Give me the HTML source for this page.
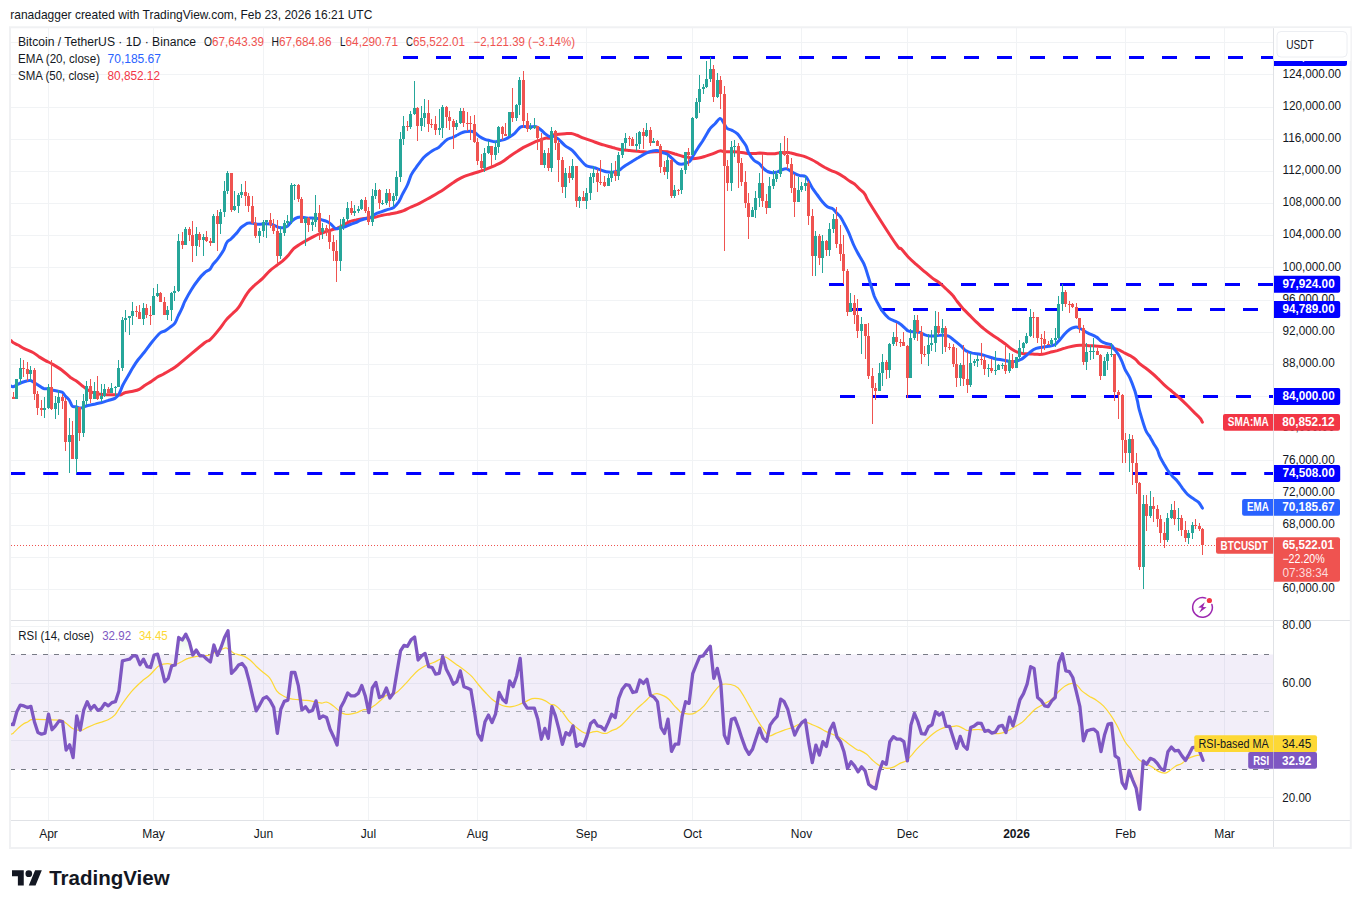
<!DOCTYPE html>
<html><head><meta charset="utf-8"><title>BTCUSDT chart</title>
<style>html,body{margin:0;padding:0;background:#fff;}svg{display:block;}text{font-family:"Liberation Sans",sans-serif;}</style>
</head><body>
<svg width="1361" height="908" viewBox="0 0 1361 908" font-family="Liberation Sans, sans-serif">
<defs>
<clipPath id="cp"><rect x="10.5" y="27" width="1263" height="793"/></clipPath>
<linearGradient id="ghi" gradientUnits="userSpaceOnUse" x1="0" y1="625" x2="0" y2="654.5"><stop offset="0" stop-color="#4caf50" stop-opacity="0.22"/><stop offset="1" stop-color="#4caf50" stop-opacity="0"/></linearGradient>
<linearGradient id="glo" gradientUnits="userSpaceOnUse" x1="0" y1="769.5" x2="0" y2="815"><stop offset="0" stop-color="#ff5252" stop-opacity="0.06"/><stop offset="1" stop-color="#ff5252" stop-opacity="0.3"/></linearGradient>
</defs>
<rect width="1361" height="908" fill="#fff"/>
<g shape-rendering="crispEdges">
<rect x="48" y="27" width="1" height="793" fill="#f1f3f5"/><rect x="153" y="27" width="1" height="793" fill="#f1f3f5"/><rect x="263" y="27" width="1" height="793" fill="#f1f3f5"/><rect x="368" y="27" width="1" height="793" fill="#f1f3f5"/><rect x="477" y="27" width="1" height="793" fill="#f1f3f5"/><rect x="586" y="27" width="1" height="793" fill="#f1f3f5"/><rect x="692" y="27" width="1" height="793" fill="#f1f3f5"/><rect x="801" y="27" width="1" height="793" fill="#f1f3f5"/><rect x="907" y="27" width="1" height="793" fill="#f1f3f5"/><rect x="1016" y="27" width="1" height="793" fill="#f1f3f5"/><rect x="1125" y="27" width="1" height="793" fill="#f1f3f5"/><rect x="1224" y="27" width="1" height="793" fill="#f1f3f5"/><rect x="10" y="589" width="1263" height="1" fill="#f1f3f5"/><rect x="10" y="557" width="1263" height="1" fill="#f1f3f5"/><rect x="10" y="525" width="1263" height="1" fill="#f1f3f5"/><rect x="10" y="493" width="1263" height="1" fill="#f1f3f5"/><rect x="10" y="460" width="1263" height="1" fill="#f1f3f5"/><rect x="10" y="428" width="1263" height="1" fill="#f1f3f5"/><rect x="10" y="396" width="1263" height="1" fill="#f1f3f5"/><rect x="10" y="364" width="1263" height="1" fill="#f1f3f5"/><rect x="10" y="332" width="1263" height="1" fill="#f1f3f5"/><rect x="10" y="300" width="1263" height="1" fill="#f1f3f5"/><rect x="10" y="267" width="1263" height="1" fill="#f1f3f5"/><rect x="10" y="235" width="1263" height="1" fill="#f1f3f5"/><rect x="10" y="203" width="1263" height="1" fill="#f1f3f5"/><rect x="10" y="171" width="1263" height="1" fill="#f1f3f5"/><rect x="10" y="139" width="1263" height="1" fill="#f1f3f5"/><rect x="10" y="107" width="1263" height="1" fill="#f1f3f5"/><rect x="10" y="74" width="1263" height="1" fill="#f1f3f5"/><rect x="10" y="42" width="1263" height="1" fill="#f1f3f5"/><rect x="10" y="626" width="1263" height="1" fill="#f1f3f5"/><rect x="10" y="683" width="1263" height="1" fill="#f1f3f5"/><rect x="10" y="740" width="1263" height="1" fill="#f1f3f5"/><rect x="10" y="797" width="1263" height="1" fill="#f1f3f5"/>
</g>
<rect x="10" y="654.5" width="1263.5" height="115.0" fill="#7e57c2" fill-opacity="0.1"/>
<g><rect x="403.0" y="56.0" width="15.0" height="3" fill="#0000ff"/><rect x="436.0" y="56.0" width="15.0" height="3" fill="#0000ff"/><rect x="469.0" y="56.0" width="15.0" height="3" fill="#0000ff"/><rect x="502.0" y="56.0" width="15.0" height="3" fill="#0000ff"/><rect x="535.0" y="56.0" width="15.0" height="3" fill="#0000ff"/><rect x="568.0" y="56.0" width="15.0" height="3" fill="#0000ff"/><rect x="601.0" y="56.0" width="15.0" height="3" fill="#0000ff"/><rect x="634.0" y="56.0" width="15.0" height="3" fill="#0000ff"/><rect x="667.0" y="56.0" width="15.0" height="3" fill="#0000ff"/><rect x="700.0" y="56.0" width="15.0" height="3" fill="#0000ff"/><rect x="733.0" y="56.0" width="15.0" height="3" fill="#0000ff"/><rect x="766.0" y="56.0" width="15.0" height="3" fill="#0000ff"/><rect x="799.0" y="56.0" width="15.0" height="3" fill="#0000ff"/><rect x="832.0" y="56.0" width="15.0" height="3" fill="#0000ff"/><rect x="865.0" y="56.0" width="15.0" height="3" fill="#0000ff"/><rect x="898.0" y="56.0" width="15.0" height="3" fill="#0000ff"/><rect x="931.0" y="56.0" width="15.0" height="3" fill="#0000ff"/><rect x="964.0" y="56.0" width="15.0" height="3" fill="#0000ff"/><rect x="997.0" y="56.0" width="15.0" height="3" fill="#0000ff"/><rect x="1030.0" y="56.0" width="15.0" height="3" fill="#0000ff"/><rect x="1063.0" y="56.0" width="15.0" height="3" fill="#0000ff"/><rect x="1096.0" y="56.0" width="15.0" height="3" fill="#0000ff"/><rect x="1129.0" y="56.0" width="15.0" height="3" fill="#0000ff"/><rect x="1162.0" y="56.0" width="15.0" height="3" fill="#0000ff"/><rect x="1195.0" y="56.0" width="15.0" height="3" fill="#0000ff"/><rect x="1228.0" y="56.0" width="15.0" height="3" fill="#0000ff"/><rect x="1261.0" y="56.0" width="12.0" height="3" fill="#0000ff"/><rect x="829.0" y="283.0" width="15.0" height="3" fill="#0000ff"/><rect x="862.0" y="283.0" width="15.0" height="3" fill="#0000ff"/><rect x="895.0" y="283.0" width="15.0" height="3" fill="#0000ff"/><rect x="928.0" y="283.0" width="15.0" height="3" fill="#0000ff"/><rect x="961.0" y="283.0" width="15.0" height="3" fill="#0000ff"/><rect x="994.0" y="283.0" width="15.0" height="3" fill="#0000ff"/><rect x="1027.0" y="283.0" width="15.0" height="3" fill="#0000ff"/><rect x="1060.0" y="283.0" width="15.0" height="3" fill="#0000ff"/><rect x="1093.0" y="283.0" width="15.0" height="3" fill="#0000ff"/><rect x="1126.0" y="283.0" width="15.0" height="3" fill="#0000ff"/><rect x="1159.0" y="283.0" width="15.0" height="3" fill="#0000ff"/><rect x="1192.0" y="283.0" width="15.0" height="3" fill="#0000ff"/><rect x="1225.0" y="283.0" width="15.0" height="3" fill="#0000ff"/><rect x="1258.0" y="283.0" width="15.0" height="3" fill="#0000ff"/><rect x="847.0" y="308.0" width="15.0" height="3" fill="#0000ff"/><rect x="880.0" y="308.0" width="15.0" height="3" fill="#0000ff"/><rect x="913.0" y="308.0" width="15.0" height="3" fill="#0000ff"/><rect x="946.0" y="308.0" width="15.0" height="3" fill="#0000ff"/><rect x="979.0" y="308.0" width="15.0" height="3" fill="#0000ff"/><rect x="1012.0" y="308.0" width="15.0" height="3" fill="#0000ff"/><rect x="1045.0" y="308.0" width="15.0" height="3" fill="#0000ff"/><rect x="1078.0" y="308.0" width="15.0" height="3" fill="#0000ff"/><rect x="1111.0" y="308.0" width="15.0" height="3" fill="#0000ff"/><rect x="1144.0" y="308.0" width="15.0" height="3" fill="#0000ff"/><rect x="1177.0" y="308.0" width="15.0" height="3" fill="#0000ff"/><rect x="1210.0" y="308.0" width="15.0" height="3" fill="#0000ff"/><rect x="1243.0" y="308.0" width="15.0" height="3" fill="#0000ff"/><rect x="840.0" y="395.0" width="15.0" height="3" fill="#0000ff"/><rect x="873.0" y="395.0" width="15.0" height="3" fill="#0000ff"/><rect x="906.0" y="395.0" width="15.0" height="3" fill="#0000ff"/><rect x="939.0" y="395.0" width="15.0" height="3" fill="#0000ff"/><rect x="972.0" y="395.0" width="15.0" height="3" fill="#0000ff"/><rect x="1005.0" y="395.0" width="15.0" height="3" fill="#0000ff"/><rect x="1038.0" y="395.0" width="15.0" height="3" fill="#0000ff"/><rect x="1071.0" y="395.0" width="15.0" height="3" fill="#0000ff"/><rect x="1104.0" y="395.0" width="15.0" height="3" fill="#0000ff"/><rect x="1137.0" y="395.0" width="15.0" height="3" fill="#0000ff"/><rect x="1170.0" y="395.0" width="15.0" height="3" fill="#0000ff"/><rect x="1203.0" y="395.0" width="15.0" height="3" fill="#0000ff"/><rect x="1236.0" y="395.0" width="15.0" height="3" fill="#0000ff"/><rect x="1269.0" y="395.0" width="4.0" height="3" fill="#0000ff"/><rect x="10.2" y="472.0" width="15.0" height="3" fill="#0000ff"/><rect x="43.2" y="472.0" width="15.0" height="3" fill="#0000ff"/><rect x="76.2" y="472.0" width="15.0" height="3" fill="#0000ff"/><rect x="109.2" y="472.0" width="15.0" height="3" fill="#0000ff"/><rect x="142.2" y="472.0" width="15.0" height="3" fill="#0000ff"/><rect x="175.2" y="472.0" width="15.0" height="3" fill="#0000ff"/><rect x="208.2" y="472.0" width="15.0" height="3" fill="#0000ff"/><rect x="241.2" y="472.0" width="15.0" height="3" fill="#0000ff"/><rect x="274.2" y="472.0" width="15.0" height="3" fill="#0000ff"/><rect x="307.2" y="472.0" width="15.0" height="3" fill="#0000ff"/><rect x="340.2" y="472.0" width="15.0" height="3" fill="#0000ff"/><rect x="373.2" y="472.0" width="15.0" height="3" fill="#0000ff"/><rect x="406.2" y="472.0" width="15.0" height="3" fill="#0000ff"/><rect x="439.2" y="472.0" width="15.0" height="3" fill="#0000ff"/><rect x="472.2" y="472.0" width="15.0" height="3" fill="#0000ff"/><rect x="505.2" y="472.0" width="15.0" height="3" fill="#0000ff"/><rect x="538.2" y="472.0" width="15.0" height="3" fill="#0000ff"/><rect x="571.2" y="472.0" width="15.0" height="3" fill="#0000ff"/><rect x="604.2" y="472.0" width="15.0" height="3" fill="#0000ff"/><rect x="637.2" y="472.0" width="15.0" height="3" fill="#0000ff"/><rect x="670.2" y="472.0" width="15.0" height="3" fill="#0000ff"/><rect x="703.2" y="472.0" width="15.0" height="3" fill="#0000ff"/><rect x="736.2" y="472.0" width="15.0" height="3" fill="#0000ff"/><rect x="769.2" y="472.0" width="15.0" height="3" fill="#0000ff"/><rect x="802.2" y="472.0" width="15.0" height="3" fill="#0000ff"/><rect x="835.2" y="472.0" width="15.0" height="3" fill="#0000ff"/><rect x="868.2" y="472.0" width="15.0" height="3" fill="#0000ff"/><rect x="901.2" y="472.0" width="15.0" height="3" fill="#0000ff"/><rect x="934.2" y="472.0" width="15.0" height="3" fill="#0000ff"/><rect x="967.2" y="472.0" width="15.0" height="3" fill="#0000ff"/><rect x="1000.2" y="472.0" width="15.0" height="3" fill="#0000ff"/><rect x="1033.2" y="472.0" width="15.0" height="3" fill="#0000ff"/><rect x="1066.2" y="472.0" width="15.0" height="3" fill="#0000ff"/><rect x="1099.2" y="472.0" width="15.0" height="3" fill="#0000ff"/><rect x="1132.2" y="472.0" width="15.0" height="3" fill="#0000ff"/><rect x="1165.2" y="472.0" width="15.0" height="3" fill="#0000ff"/><rect x="1198.2" y="472.0" width="15.0" height="3" fill="#0000ff"/><rect x="1231.2" y="472.0" width="15.0" height="3" fill="#0000ff"/><rect x="1264.2" y="472.0" width="8.8" height="3" fill="#0000ff"/></g>
<g shape-rendering="crispEdges"><rect x="11" y="545" width="1" height="1" fill="#ef5350"/><rect x="14" y="545" width="1" height="1" fill="#ef5350"/><rect x="17" y="545" width="1" height="1" fill="#ef5350"/><rect x="20" y="545" width="1" height="1" fill="#ef5350"/><rect x="23" y="545" width="1" height="1" fill="#ef5350"/><rect x="26" y="545" width="1" height="1" fill="#ef5350"/><rect x="29" y="545" width="1" height="1" fill="#ef5350"/><rect x="32" y="545" width="1" height="1" fill="#ef5350"/><rect x="35" y="545" width="1" height="1" fill="#ef5350"/><rect x="38" y="545" width="1" height="1" fill="#ef5350"/><rect x="41" y="545" width="1" height="1" fill="#ef5350"/><rect x="44" y="545" width="1" height="1" fill="#ef5350"/><rect x="47" y="545" width="1" height="1" fill="#ef5350"/><rect x="50" y="545" width="1" height="1" fill="#ef5350"/><rect x="53" y="545" width="1" height="1" fill="#ef5350"/><rect x="56" y="545" width="1" height="1" fill="#ef5350"/><rect x="59" y="545" width="1" height="1" fill="#ef5350"/><rect x="62" y="545" width="1" height="1" fill="#ef5350"/><rect x="65" y="545" width="1" height="1" fill="#ef5350"/><rect x="68" y="545" width="1" height="1" fill="#ef5350"/><rect x="71" y="545" width="1" height="1" fill="#ef5350"/><rect x="74" y="545" width="1" height="1" fill="#ef5350"/><rect x="77" y="545" width="1" height="1" fill="#ef5350"/><rect x="80" y="545" width="1" height="1" fill="#ef5350"/><rect x="83" y="545" width="1" height="1" fill="#ef5350"/><rect x="86" y="545" width="1" height="1" fill="#ef5350"/><rect x="89" y="545" width="1" height="1" fill="#ef5350"/><rect x="92" y="545" width="1" height="1" fill="#ef5350"/><rect x="95" y="545" width="1" height="1" fill="#ef5350"/><rect x="98" y="545" width="1" height="1" fill="#ef5350"/><rect x="101" y="545" width="1" height="1" fill="#ef5350"/><rect x="104" y="545" width="1" height="1" fill="#ef5350"/><rect x="107" y="545" width="1" height="1" fill="#ef5350"/><rect x="110" y="545" width="1" height="1" fill="#ef5350"/><rect x="113" y="545" width="1" height="1" fill="#ef5350"/><rect x="116" y="545" width="1" height="1" fill="#ef5350"/><rect x="119" y="545" width="1" height="1" fill="#ef5350"/><rect x="122" y="545" width="1" height="1" fill="#ef5350"/><rect x="125" y="545" width="1" height="1" fill="#ef5350"/><rect x="128" y="545" width="1" height="1" fill="#ef5350"/><rect x="131" y="545" width="1" height="1" fill="#ef5350"/><rect x="134" y="545" width="1" height="1" fill="#ef5350"/><rect x="137" y="545" width="1" height="1" fill="#ef5350"/><rect x="140" y="545" width="1" height="1" fill="#ef5350"/><rect x="143" y="545" width="1" height="1" fill="#ef5350"/><rect x="146" y="545" width="1" height="1" fill="#ef5350"/><rect x="149" y="545" width="1" height="1" fill="#ef5350"/><rect x="152" y="545" width="1" height="1" fill="#ef5350"/><rect x="155" y="545" width="1" height="1" fill="#ef5350"/><rect x="158" y="545" width="1" height="1" fill="#ef5350"/><rect x="161" y="545" width="1" height="1" fill="#ef5350"/><rect x="164" y="545" width="1" height="1" fill="#ef5350"/><rect x="167" y="545" width="1" height="1" fill="#ef5350"/><rect x="170" y="545" width="1" height="1" fill="#ef5350"/><rect x="173" y="545" width="1" height="1" fill="#ef5350"/><rect x="176" y="545" width="1" height="1" fill="#ef5350"/><rect x="179" y="545" width="1" height="1" fill="#ef5350"/><rect x="182" y="545" width="1" height="1" fill="#ef5350"/><rect x="185" y="545" width="1" height="1" fill="#ef5350"/><rect x="188" y="545" width="1" height="1" fill="#ef5350"/><rect x="191" y="545" width="1" height="1" fill="#ef5350"/><rect x="194" y="545" width="1" height="1" fill="#ef5350"/><rect x="197" y="545" width="1" height="1" fill="#ef5350"/><rect x="200" y="545" width="1" height="1" fill="#ef5350"/><rect x="203" y="545" width="1" height="1" fill="#ef5350"/><rect x="206" y="545" width="1" height="1" fill="#ef5350"/><rect x="209" y="545" width="1" height="1" fill="#ef5350"/><rect x="212" y="545" width="1" height="1" fill="#ef5350"/><rect x="215" y="545" width="1" height="1" fill="#ef5350"/><rect x="218" y="545" width="1" height="1" fill="#ef5350"/><rect x="221" y="545" width="1" height="1" fill="#ef5350"/><rect x="224" y="545" width="1" height="1" fill="#ef5350"/><rect x="227" y="545" width="1" height="1" fill="#ef5350"/><rect x="230" y="545" width="1" height="1" fill="#ef5350"/><rect x="233" y="545" width="1" height="1" fill="#ef5350"/><rect x="236" y="545" width="1" height="1" fill="#ef5350"/><rect x="239" y="545" width="1" height="1" fill="#ef5350"/><rect x="242" y="545" width="1" height="1" fill="#ef5350"/><rect x="245" y="545" width="1" height="1" fill="#ef5350"/><rect x="248" y="545" width="1" height="1" fill="#ef5350"/><rect x="251" y="545" width="1" height="1" fill="#ef5350"/><rect x="254" y="545" width="1" height="1" fill="#ef5350"/><rect x="257" y="545" width="1" height="1" fill="#ef5350"/><rect x="260" y="545" width="1" height="1" fill="#ef5350"/><rect x="263" y="545" width="1" height="1" fill="#ef5350"/><rect x="266" y="545" width="1" height="1" fill="#ef5350"/><rect x="269" y="545" width="1" height="1" fill="#ef5350"/><rect x="272" y="545" width="1" height="1" fill="#ef5350"/><rect x="275" y="545" width="1" height="1" fill="#ef5350"/><rect x="278" y="545" width="1" height="1" fill="#ef5350"/><rect x="281" y="545" width="1" height="1" fill="#ef5350"/><rect x="284" y="545" width="1" height="1" fill="#ef5350"/><rect x="287" y="545" width="1" height="1" fill="#ef5350"/><rect x="290" y="545" width="1" height="1" fill="#ef5350"/><rect x="293" y="545" width="1" height="1" fill="#ef5350"/><rect x="296" y="545" width="1" height="1" fill="#ef5350"/><rect x="299" y="545" width="1" height="1" fill="#ef5350"/><rect x="302" y="545" width="1" height="1" fill="#ef5350"/><rect x="305" y="545" width="1" height="1" fill="#ef5350"/><rect x="308" y="545" width="1" height="1" fill="#ef5350"/><rect x="311" y="545" width="1" height="1" fill="#ef5350"/><rect x="314" y="545" width="1" height="1" fill="#ef5350"/><rect x="317" y="545" width="1" height="1" fill="#ef5350"/><rect x="320" y="545" width="1" height="1" fill="#ef5350"/><rect x="323" y="545" width="1" height="1" fill="#ef5350"/><rect x="326" y="545" width="1" height="1" fill="#ef5350"/><rect x="329" y="545" width="1" height="1" fill="#ef5350"/><rect x="332" y="545" width="1" height="1" fill="#ef5350"/><rect x="335" y="545" width="1" height="1" fill="#ef5350"/><rect x="338" y="545" width="1" height="1" fill="#ef5350"/><rect x="341" y="545" width="1" height="1" fill="#ef5350"/><rect x="344" y="545" width="1" height="1" fill="#ef5350"/><rect x="347" y="545" width="1" height="1" fill="#ef5350"/><rect x="350" y="545" width="1" height="1" fill="#ef5350"/><rect x="353" y="545" width="1" height="1" fill="#ef5350"/><rect x="356" y="545" width="1" height="1" fill="#ef5350"/><rect x="359" y="545" width="1" height="1" fill="#ef5350"/><rect x="362" y="545" width="1" height="1" fill="#ef5350"/><rect x="365" y="545" width="1" height="1" fill="#ef5350"/><rect x="368" y="545" width="1" height="1" fill="#ef5350"/><rect x="371" y="545" width="1" height="1" fill="#ef5350"/><rect x="374" y="545" width="1" height="1" fill="#ef5350"/><rect x="377" y="545" width="1" height="1" fill="#ef5350"/><rect x="380" y="545" width="1" height="1" fill="#ef5350"/><rect x="383" y="545" width="1" height="1" fill="#ef5350"/><rect x="386" y="545" width="1" height="1" fill="#ef5350"/><rect x="389" y="545" width="1" height="1" fill="#ef5350"/><rect x="392" y="545" width="1" height="1" fill="#ef5350"/><rect x="395" y="545" width="1" height="1" fill="#ef5350"/><rect x="398" y="545" width="1" height="1" fill="#ef5350"/><rect x="401" y="545" width="1" height="1" fill="#ef5350"/><rect x="404" y="545" width="1" height="1" fill="#ef5350"/><rect x="407" y="545" width="1" height="1" fill="#ef5350"/><rect x="410" y="545" width="1" height="1" fill="#ef5350"/><rect x="413" y="545" width="1" height="1" fill="#ef5350"/><rect x="416" y="545" width="1" height="1" fill="#ef5350"/><rect x="419" y="545" width="1" height="1" fill="#ef5350"/><rect x="422" y="545" width="1" height="1" fill="#ef5350"/><rect x="425" y="545" width="1" height="1" fill="#ef5350"/><rect x="428" y="545" width="1" height="1" fill="#ef5350"/><rect x="431" y="545" width="1" height="1" fill="#ef5350"/><rect x="434" y="545" width="1" height="1" fill="#ef5350"/><rect x="437" y="545" width="1" height="1" fill="#ef5350"/><rect x="440" y="545" width="1" height="1" fill="#ef5350"/><rect x="443" y="545" width="1" height="1" fill="#ef5350"/><rect x="446" y="545" width="1" height="1" fill="#ef5350"/><rect x="449" y="545" width="1" height="1" fill="#ef5350"/><rect x="452" y="545" width="1" height="1" fill="#ef5350"/><rect x="455" y="545" width="1" height="1" fill="#ef5350"/><rect x="458" y="545" width="1" height="1" fill="#ef5350"/><rect x="461" y="545" width="1" height="1" fill="#ef5350"/><rect x="464" y="545" width="1" height="1" fill="#ef5350"/><rect x="467" y="545" width="1" height="1" fill="#ef5350"/><rect x="470" y="545" width="1" height="1" fill="#ef5350"/><rect x="473" y="545" width="1" height="1" fill="#ef5350"/><rect x="476" y="545" width="1" height="1" fill="#ef5350"/><rect x="479" y="545" width="1" height="1" fill="#ef5350"/><rect x="482" y="545" width="1" height="1" fill="#ef5350"/><rect x="485" y="545" width="1" height="1" fill="#ef5350"/><rect x="488" y="545" width="1" height="1" fill="#ef5350"/><rect x="491" y="545" width="1" height="1" fill="#ef5350"/><rect x="494" y="545" width="1" height="1" fill="#ef5350"/><rect x="497" y="545" width="1" height="1" fill="#ef5350"/><rect x="500" y="545" width="1" height="1" fill="#ef5350"/><rect x="503" y="545" width="1" height="1" fill="#ef5350"/><rect x="506" y="545" width="1" height="1" fill="#ef5350"/><rect x="509" y="545" width="1" height="1" fill="#ef5350"/><rect x="512" y="545" width="1" height="1" fill="#ef5350"/><rect x="515" y="545" width="1" height="1" fill="#ef5350"/><rect x="518" y="545" width="1" height="1" fill="#ef5350"/><rect x="521" y="545" width="1" height="1" fill="#ef5350"/><rect x="524" y="545" width="1" height="1" fill="#ef5350"/><rect x="527" y="545" width="1" height="1" fill="#ef5350"/><rect x="530" y="545" width="1" height="1" fill="#ef5350"/><rect x="533" y="545" width="1" height="1" fill="#ef5350"/><rect x="536" y="545" width="1" height="1" fill="#ef5350"/><rect x="539" y="545" width="1" height="1" fill="#ef5350"/><rect x="542" y="545" width="1" height="1" fill="#ef5350"/><rect x="545" y="545" width="1" height="1" fill="#ef5350"/><rect x="548" y="545" width="1" height="1" fill="#ef5350"/><rect x="551" y="545" width="1" height="1" fill="#ef5350"/><rect x="554" y="545" width="1" height="1" fill="#ef5350"/><rect x="557" y="545" width="1" height="1" fill="#ef5350"/><rect x="560" y="545" width="1" height="1" fill="#ef5350"/><rect x="563" y="545" width="1" height="1" fill="#ef5350"/><rect x="566" y="545" width="1" height="1" fill="#ef5350"/><rect x="569" y="545" width="1" height="1" fill="#ef5350"/><rect x="572" y="545" width="1" height="1" fill="#ef5350"/><rect x="575" y="545" width="1" height="1" fill="#ef5350"/><rect x="578" y="545" width="1" height="1" fill="#ef5350"/><rect x="581" y="545" width="1" height="1" fill="#ef5350"/><rect x="584" y="545" width="1" height="1" fill="#ef5350"/><rect x="587" y="545" width="1" height="1" fill="#ef5350"/><rect x="590" y="545" width="1" height="1" fill="#ef5350"/><rect x="593" y="545" width="1" height="1" fill="#ef5350"/><rect x="596" y="545" width="1" height="1" fill="#ef5350"/><rect x="599" y="545" width="1" height="1" fill="#ef5350"/><rect x="602" y="545" width="1" height="1" fill="#ef5350"/><rect x="605" y="545" width="1" height="1" fill="#ef5350"/><rect x="608" y="545" width="1" height="1" fill="#ef5350"/><rect x="611" y="545" width="1" height="1" fill="#ef5350"/><rect x="614" y="545" width="1" height="1" fill="#ef5350"/><rect x="617" y="545" width="1" height="1" fill="#ef5350"/><rect x="620" y="545" width="1" height="1" fill="#ef5350"/><rect x="623" y="545" width="1" height="1" fill="#ef5350"/><rect x="626" y="545" width="1" height="1" fill="#ef5350"/><rect x="629" y="545" width="1" height="1" fill="#ef5350"/><rect x="632" y="545" width="1" height="1" fill="#ef5350"/><rect x="635" y="545" width="1" height="1" fill="#ef5350"/><rect x="638" y="545" width="1" height="1" fill="#ef5350"/><rect x="641" y="545" width="1" height="1" fill="#ef5350"/><rect x="644" y="545" width="1" height="1" fill="#ef5350"/><rect x="647" y="545" width="1" height="1" fill="#ef5350"/><rect x="650" y="545" width="1" height="1" fill="#ef5350"/><rect x="653" y="545" width="1" height="1" fill="#ef5350"/><rect x="656" y="545" width="1" height="1" fill="#ef5350"/><rect x="659" y="545" width="1" height="1" fill="#ef5350"/><rect x="662" y="545" width="1" height="1" fill="#ef5350"/><rect x="665" y="545" width="1" height="1" fill="#ef5350"/><rect x="668" y="545" width="1" height="1" fill="#ef5350"/><rect x="671" y="545" width="1" height="1" fill="#ef5350"/><rect x="674" y="545" width="1" height="1" fill="#ef5350"/><rect x="677" y="545" width="1" height="1" fill="#ef5350"/><rect x="680" y="545" width="1" height="1" fill="#ef5350"/><rect x="683" y="545" width="1" height="1" fill="#ef5350"/><rect x="686" y="545" width="1" height="1" fill="#ef5350"/><rect x="689" y="545" width="1" height="1" fill="#ef5350"/><rect x="692" y="545" width="1" height="1" fill="#ef5350"/><rect x="695" y="545" width="1" height="1" fill="#ef5350"/><rect x="698" y="545" width="1" height="1" fill="#ef5350"/><rect x="701" y="545" width="1" height="1" fill="#ef5350"/><rect x="704" y="545" width="1" height="1" fill="#ef5350"/><rect x="707" y="545" width="1" height="1" fill="#ef5350"/><rect x="710" y="545" width="1" height="1" fill="#ef5350"/><rect x="713" y="545" width="1" height="1" fill="#ef5350"/><rect x="716" y="545" width="1" height="1" fill="#ef5350"/><rect x="719" y="545" width="1" height="1" fill="#ef5350"/><rect x="722" y="545" width="1" height="1" fill="#ef5350"/><rect x="725" y="545" width="1" height="1" fill="#ef5350"/><rect x="728" y="545" width="1" height="1" fill="#ef5350"/><rect x="731" y="545" width="1" height="1" fill="#ef5350"/><rect x="734" y="545" width="1" height="1" fill="#ef5350"/><rect x="737" y="545" width="1" height="1" fill="#ef5350"/><rect x="740" y="545" width="1" height="1" fill="#ef5350"/><rect x="743" y="545" width="1" height="1" fill="#ef5350"/><rect x="746" y="545" width="1" height="1" fill="#ef5350"/><rect x="749" y="545" width="1" height="1" fill="#ef5350"/><rect x="752" y="545" width="1" height="1" fill="#ef5350"/><rect x="755" y="545" width="1" height="1" fill="#ef5350"/><rect x="758" y="545" width="1" height="1" fill="#ef5350"/><rect x="761" y="545" width="1" height="1" fill="#ef5350"/><rect x="764" y="545" width="1" height="1" fill="#ef5350"/><rect x="767" y="545" width="1" height="1" fill="#ef5350"/><rect x="770" y="545" width="1" height="1" fill="#ef5350"/><rect x="773" y="545" width="1" height="1" fill="#ef5350"/><rect x="776" y="545" width="1" height="1" fill="#ef5350"/><rect x="779" y="545" width="1" height="1" fill="#ef5350"/><rect x="782" y="545" width="1" height="1" fill="#ef5350"/><rect x="785" y="545" width="1" height="1" fill="#ef5350"/><rect x="788" y="545" width="1" height="1" fill="#ef5350"/><rect x="791" y="545" width="1" height="1" fill="#ef5350"/><rect x="794" y="545" width="1" height="1" fill="#ef5350"/><rect x="797" y="545" width="1" height="1" fill="#ef5350"/><rect x="800" y="545" width="1" height="1" fill="#ef5350"/><rect x="803" y="545" width="1" height="1" fill="#ef5350"/><rect x="806" y="545" width="1" height="1" fill="#ef5350"/><rect x="809" y="545" width="1" height="1" fill="#ef5350"/><rect x="812" y="545" width="1" height="1" fill="#ef5350"/><rect x="815" y="545" width="1" height="1" fill="#ef5350"/><rect x="818" y="545" width="1" height="1" fill="#ef5350"/><rect x="821" y="545" width="1" height="1" fill="#ef5350"/><rect x="824" y="545" width="1" height="1" fill="#ef5350"/><rect x="827" y="545" width="1" height="1" fill="#ef5350"/><rect x="830" y="545" width="1" height="1" fill="#ef5350"/><rect x="833" y="545" width="1" height="1" fill="#ef5350"/><rect x="836" y="545" width="1" height="1" fill="#ef5350"/><rect x="839" y="545" width="1" height="1" fill="#ef5350"/><rect x="842" y="545" width="1" height="1" fill="#ef5350"/><rect x="845" y="545" width="1" height="1" fill="#ef5350"/><rect x="848" y="545" width="1" height="1" fill="#ef5350"/><rect x="851" y="545" width="1" height="1" fill="#ef5350"/><rect x="854" y="545" width="1" height="1" fill="#ef5350"/><rect x="857" y="545" width="1" height="1" fill="#ef5350"/><rect x="860" y="545" width="1" height="1" fill="#ef5350"/><rect x="863" y="545" width="1" height="1" fill="#ef5350"/><rect x="866" y="545" width="1" height="1" fill="#ef5350"/><rect x="869" y="545" width="1" height="1" fill="#ef5350"/><rect x="872" y="545" width="1" height="1" fill="#ef5350"/><rect x="875" y="545" width="1" height="1" fill="#ef5350"/><rect x="878" y="545" width="1" height="1" fill="#ef5350"/><rect x="881" y="545" width="1" height="1" fill="#ef5350"/><rect x="884" y="545" width="1" height="1" fill="#ef5350"/><rect x="887" y="545" width="1" height="1" fill="#ef5350"/><rect x="890" y="545" width="1" height="1" fill="#ef5350"/><rect x="893" y="545" width="1" height="1" fill="#ef5350"/><rect x="896" y="545" width="1" height="1" fill="#ef5350"/><rect x="899" y="545" width="1" height="1" fill="#ef5350"/><rect x="902" y="545" width="1" height="1" fill="#ef5350"/><rect x="905" y="545" width="1" height="1" fill="#ef5350"/><rect x="908" y="545" width="1" height="1" fill="#ef5350"/><rect x="911" y="545" width="1" height="1" fill="#ef5350"/><rect x="914" y="545" width="1" height="1" fill="#ef5350"/><rect x="917" y="545" width="1" height="1" fill="#ef5350"/><rect x="920" y="545" width="1" height="1" fill="#ef5350"/><rect x="923" y="545" width="1" height="1" fill="#ef5350"/><rect x="926" y="545" width="1" height="1" fill="#ef5350"/><rect x="929" y="545" width="1" height="1" fill="#ef5350"/><rect x="932" y="545" width="1" height="1" fill="#ef5350"/><rect x="935" y="545" width="1" height="1" fill="#ef5350"/><rect x="938" y="545" width="1" height="1" fill="#ef5350"/><rect x="941" y="545" width="1" height="1" fill="#ef5350"/><rect x="944" y="545" width="1" height="1" fill="#ef5350"/><rect x="947" y="545" width="1" height="1" fill="#ef5350"/><rect x="950" y="545" width="1" height="1" fill="#ef5350"/><rect x="953" y="545" width="1" height="1" fill="#ef5350"/><rect x="956" y="545" width="1" height="1" fill="#ef5350"/><rect x="959" y="545" width="1" height="1" fill="#ef5350"/><rect x="962" y="545" width="1" height="1" fill="#ef5350"/><rect x="965" y="545" width="1" height="1" fill="#ef5350"/><rect x="968" y="545" width="1" height="1" fill="#ef5350"/><rect x="971" y="545" width="1" height="1" fill="#ef5350"/><rect x="974" y="545" width="1" height="1" fill="#ef5350"/><rect x="977" y="545" width="1" height="1" fill="#ef5350"/><rect x="980" y="545" width="1" height="1" fill="#ef5350"/><rect x="983" y="545" width="1" height="1" fill="#ef5350"/><rect x="986" y="545" width="1" height="1" fill="#ef5350"/><rect x="989" y="545" width="1" height="1" fill="#ef5350"/><rect x="992" y="545" width="1" height="1" fill="#ef5350"/><rect x="995" y="545" width="1" height="1" fill="#ef5350"/><rect x="998" y="545" width="1" height="1" fill="#ef5350"/><rect x="1001" y="545" width="1" height="1" fill="#ef5350"/><rect x="1004" y="545" width="1" height="1" fill="#ef5350"/><rect x="1007" y="545" width="1" height="1" fill="#ef5350"/><rect x="1010" y="545" width="1" height="1" fill="#ef5350"/><rect x="1013" y="545" width="1" height="1" fill="#ef5350"/><rect x="1016" y="545" width="1" height="1" fill="#ef5350"/><rect x="1019" y="545" width="1" height="1" fill="#ef5350"/><rect x="1022" y="545" width="1" height="1" fill="#ef5350"/><rect x="1025" y="545" width="1" height="1" fill="#ef5350"/><rect x="1028" y="545" width="1" height="1" fill="#ef5350"/><rect x="1031" y="545" width="1" height="1" fill="#ef5350"/><rect x="1034" y="545" width="1" height="1" fill="#ef5350"/><rect x="1037" y="545" width="1" height="1" fill="#ef5350"/><rect x="1040" y="545" width="1" height="1" fill="#ef5350"/><rect x="1043" y="545" width="1" height="1" fill="#ef5350"/><rect x="1046" y="545" width="1" height="1" fill="#ef5350"/><rect x="1049" y="545" width="1" height="1" fill="#ef5350"/><rect x="1052" y="545" width="1" height="1" fill="#ef5350"/><rect x="1055" y="545" width="1" height="1" fill="#ef5350"/><rect x="1058" y="545" width="1" height="1" fill="#ef5350"/><rect x="1061" y="545" width="1" height="1" fill="#ef5350"/><rect x="1064" y="545" width="1" height="1" fill="#ef5350"/><rect x="1067" y="545" width="1" height="1" fill="#ef5350"/><rect x="1070" y="545" width="1" height="1" fill="#ef5350"/><rect x="1073" y="545" width="1" height="1" fill="#ef5350"/><rect x="1076" y="545" width="1" height="1" fill="#ef5350"/><rect x="1079" y="545" width="1" height="1" fill="#ef5350"/><rect x="1082" y="545" width="1" height="1" fill="#ef5350"/><rect x="1085" y="545" width="1" height="1" fill="#ef5350"/><rect x="1088" y="545" width="1" height="1" fill="#ef5350"/><rect x="1091" y="545" width="1" height="1" fill="#ef5350"/><rect x="1094" y="545" width="1" height="1" fill="#ef5350"/><rect x="1097" y="545" width="1" height="1" fill="#ef5350"/><rect x="1100" y="545" width="1" height="1" fill="#ef5350"/><rect x="1103" y="545" width="1" height="1" fill="#ef5350"/><rect x="1106" y="545" width="1" height="1" fill="#ef5350"/><rect x="1109" y="545" width="1" height="1" fill="#ef5350"/><rect x="1112" y="545" width="1" height="1" fill="#ef5350"/><rect x="1115" y="545" width="1" height="1" fill="#ef5350"/><rect x="1118" y="545" width="1" height="1" fill="#ef5350"/><rect x="1121" y="545" width="1" height="1" fill="#ef5350"/><rect x="1124" y="545" width="1" height="1" fill="#ef5350"/><rect x="1127" y="545" width="1" height="1" fill="#ef5350"/><rect x="1130" y="545" width="1" height="1" fill="#ef5350"/><rect x="1133" y="545" width="1" height="1" fill="#ef5350"/><rect x="1136" y="545" width="1" height="1" fill="#ef5350"/><rect x="1139" y="545" width="1" height="1" fill="#ef5350"/><rect x="1142" y="545" width="1" height="1" fill="#ef5350"/><rect x="1145" y="545" width="1" height="1" fill="#ef5350"/><rect x="1148" y="545" width="1" height="1" fill="#ef5350"/><rect x="1151" y="545" width="1" height="1" fill="#ef5350"/><rect x="1154" y="545" width="1" height="1" fill="#ef5350"/><rect x="1157" y="545" width="1" height="1" fill="#ef5350"/><rect x="1160" y="545" width="1" height="1" fill="#ef5350"/><rect x="1163" y="545" width="1" height="1" fill="#ef5350"/><rect x="1166" y="545" width="1" height="1" fill="#ef5350"/><rect x="1169" y="545" width="1" height="1" fill="#ef5350"/><rect x="1172" y="545" width="1" height="1" fill="#ef5350"/><rect x="1175" y="545" width="1" height="1" fill="#ef5350"/><rect x="1178" y="545" width="1" height="1" fill="#ef5350"/><rect x="1181" y="545" width="1" height="1" fill="#ef5350"/><rect x="1184" y="545" width="1" height="1" fill="#ef5350"/><rect x="1187" y="545" width="1" height="1" fill="#ef5350"/><rect x="1190" y="545" width="1" height="1" fill="#ef5350"/><rect x="1193" y="545" width="1" height="1" fill="#ef5350"/><rect x="1196" y="545" width="1" height="1" fill="#ef5350"/><rect x="1199" y="545" width="1" height="1" fill="#ef5350"/><rect x="1202" y="545" width="1" height="1" fill="#ef5350"/><rect x="1205" y="545" width="1" height="1" fill="#ef5350"/><rect x="1208" y="545" width="1" height="1" fill="#ef5350"/><rect x="1211" y="545" width="1" height="1" fill="#ef5350"/><rect x="1214" y="545" width="1" height="1" fill="#ef5350"/><rect x="1217" y="545" width="1" height="1" fill="#ef5350"/><rect x="1220" y="545" width="1" height="1" fill="#ef5350"/><rect x="1223" y="545" width="1" height="1" fill="#ef5350"/><rect x="1226" y="545" width="1" height="1" fill="#ef5350"/><rect x="1229" y="545" width="1" height="1" fill="#ef5350"/><rect x="1232" y="545" width="1" height="1" fill="#ef5350"/><rect x="1235" y="545" width="1" height="1" fill="#ef5350"/><rect x="1238" y="545" width="1" height="1" fill="#ef5350"/><rect x="1241" y="545" width="1" height="1" fill="#ef5350"/><rect x="1244" y="545" width="1" height="1" fill="#ef5350"/><rect x="1247" y="545" width="1" height="1" fill="#ef5350"/><rect x="1250" y="545" width="1" height="1" fill="#ef5350"/><rect x="1253" y="545" width="1" height="1" fill="#ef5350"/><rect x="1256" y="545" width="1" height="1" fill="#ef5350"/><rect x="1259" y="545" width="1" height="1" fill="#ef5350"/><rect x="1262" y="545" width="1" height="1" fill="#ef5350"/><rect x="1265" y="545" width="1" height="1" fill="#ef5350"/><rect x="1268" y="545" width="1" height="1" fill="#ef5350"/><rect x="1271" y="545" width="1" height="1" fill="#ef5350"/></g>
<g clip-path="url(#cp)"><path d="M11.1,340.6C11.4,340.9 11.9,341.8 13.0,342.5C14.1,343.2 16.1,344.0 18.0,345.0C19.9,346.0 21.7,347.5 24.2,348.7C26.7,350.0 30.5,351.1 33.0,352.5C35.5,353.8 37.1,355.5 39.2,356.9C41.3,358.2 43.4,359.5 45.5,360.6C47.6,361.8 49.0,362.2 51.7,363.7C54.4,365.3 58.6,367.7 61.7,370.0C64.8,372.3 68.0,375.6 70.5,377.5C73.0,379.3 74.6,379.8 76.7,381.2C78.8,382.7 81.1,384.8 82.9,386.2C84.8,387.7 86.1,388.8 87.9,390.0C89.8,391.1 92.1,392.4 94.2,393.1C96.3,393.8 98.1,394.1 100.4,394.3C102.7,394.6 105.4,394.6 107.9,394.7C110.4,394.8 113.3,394.7 115.4,394.7C117.5,394.8 118.8,395.3 120.4,395.0C122.1,394.6 123.3,393.1 125.4,392.5C127.5,391.8 130.6,391.7 132.9,391.2C135.2,390.7 137.1,390.4 139.2,389.3C141.2,388.3 143.3,386.3 145.4,385.0C147.5,383.6 149.6,382.6 151.6,381.2C153.7,379.9 155.8,378.1 157.9,376.8C160.0,375.6 162.1,374.9 164.1,373.7C166.2,372.6 168.1,371.4 170.4,370.0C172.7,368.5 172.3,369.5 178.0,365.0C183.7,360.5 199.0,347.2 204.3,343.0C209.6,338.9 207.5,342.1 209.9,339.9C212.3,337.7 216.0,333.3 218.7,329.9C221.4,326.6 223.9,322.6 226.2,319.9C228.4,317.2 230.3,315.8 232.4,313.7C234.5,311.6 236.1,310.9 238.6,307.4C241.1,304.0 244.7,296.8 247.4,293.1C250.1,289.3 252.4,287.4 254.9,285.0C257.4,282.6 259.9,281.1 262.4,278.7C264.9,276.3 267.5,272.9 270.0,270.6C272.5,268.3 275.3,266.5 277.4,264.9C279.5,263.3 280.5,262.8 282.4,261.2C284.3,259.5 286.8,257.0 288.6,254.9C290.5,252.8 291.8,250.5 293.6,248.7C295.5,246.9 297.6,245.8 299.9,244.3C302.2,242.9 304.9,241.3 307.4,239.9C309.9,238.5 312.8,237.0 314.9,235.9C317.0,234.9 317.3,234.7 320.0,233.7C322.7,232.7 328.3,230.9 331.2,230.0C334.1,229.0 335.4,228.9 337.5,228.1C339.6,227.2 341.6,226.1 343.7,225.0C345.8,223.9 347.9,222.3 350.0,221.5C352.0,220.6 354.1,220.4 356.2,220.0C358.3,219.5 360.4,219.0 362.5,218.7C364.5,218.4 366.6,218.3 368.7,218.1C370.8,217.8 372.7,217.7 374.9,217.2C377.2,216.7 379.9,215.8 382.4,215.2C384.9,214.7 387.4,214.4 389.9,214.0C392.4,213.5 395.1,213.0 397.4,212.5C399.7,211.9 401.6,211.4 403.7,210.6C405.8,209.8 407.2,208.7 409.9,207.5C412.6,206.2 416.4,204.9 419.9,203.1C423.5,201.3 427.2,199.1 431.2,196.9C435.1,194.6 440.0,191.7 443.6,189.4C447.3,187.0 450.7,184.3 453.0,182.8C455.3,181.2 455.5,181.0 457.4,179.9C459.4,178.8 462.4,177.2 464.9,176.2C467.4,175.1 469.9,174.5 472.4,173.7C474.9,172.9 477.4,172.3 479.9,171.4C482.4,170.6 484.9,169.7 487.4,168.7C489.9,167.7 492.4,166.7 494.9,165.6C497.4,164.4 499.9,163.4 502.4,161.8C504.9,160.2 507.4,158.0 509.9,156.2C512.4,154.4 515.1,152.6 517.4,151.2C519.7,149.7 521.6,148.6 523.6,147.4C525.7,146.3 527.8,145.3 529.9,144.3C532.0,143.3 534.1,142.3 536.1,141.4C538.2,140.6 540.7,139.9 542.4,139.3C544.1,138.8 545.0,138.3 546.2,138.1C547.5,137.9 549.0,138.6 550.0,138.1C551.0,137.6 551.0,135.8 552.5,135.2C553.9,134.6 556.7,134.6 558.7,134.3C560.8,134.1 562.9,133.9 565.0,133.7C567.1,133.6 569.4,133.3 571.2,133.5C573.1,133.7 574.1,134.2 576.2,135.0C578.3,135.7 581.0,137.1 583.7,138.1C586.4,139.1 589.3,140.1 592.5,141.2C595.6,142.3 599.1,143.7 602.5,144.7C605.8,145.8 609.3,146.6 612.4,147.5C615.6,148.3 618.3,149.2 621.2,149.7C624.1,150.2 626.8,150.3 629.9,150.6C633.1,150.9 637.0,151.2 639.9,151.5C642.8,151.7 644.9,152.1 647.4,152.2C649.9,152.3 652.8,152.0 654.9,151.8C657.0,151.7 657.8,151.5 659.9,151.5C662.0,151.5 664.9,151.4 667.4,151.8C669.9,152.3 672.4,153.2 674.9,154.0C677.4,154.7 679.9,155.6 682.4,156.2C684.9,156.8 688.2,157.3 689.9,157.7C691.6,158.1 691.0,158.6 692.5,158.7C694.0,158.7 696.7,158.4 698.7,158.0C700.8,157.7 702.7,157.1 705.0,156.4C707.3,155.7 710.0,154.8 712.5,153.9C715.0,153.0 717.9,151.3 720.0,150.9C722.1,150.6 722.9,151.7 725.0,151.8C727.0,151.9 730.0,151.7 732.5,151.8C735.0,151.9 737.5,151.9 740.0,152.2C742.5,152.4 745.0,153.2 747.5,153.4C749.9,153.6 752.9,153.5 754.9,153.4C757.0,153.4 757.9,153.0 759.9,153.0C762.0,153.1 764.9,153.6 767.4,153.7C769.9,153.8 772.8,153.8 774.9,153.7C777.0,153.5 778.3,152.8 779.9,152.7C781.6,152.5 783.3,152.7 784.9,152.7C786.6,152.7 787.8,152.3 789.9,152.7C792.0,153.0 794.8,154.0 797.4,154.7C800.0,155.4 803.0,155.9 805.5,156.8C808.0,157.7 810.2,158.8 812.4,160.0C814.6,161.1 816.6,162.5 818.7,163.7C820.7,165.0 822.8,166.3 824.9,167.5C827.0,168.6 829.1,169.7 831.2,170.6C833.2,171.5 835.3,172.1 837.4,173.1C839.5,174.1 841.6,175.5 843.6,176.8C845.7,178.2 848.0,180.0 849.9,181.2C851.8,182.5 853.2,183.0 854.9,184.3C856.6,185.7 858.2,187.7 859.9,189.3C861.5,191.0 863.2,191.9 864.9,194.3C866.6,196.7 864.8,195.4 870.0,203.7C875.2,212.0 891.0,236.9 896.2,244.4C901.4,251.9 899.1,246.6 901.2,248.7C903.3,250.9 906.2,254.9 908.7,257.5C911.2,260.1 913.5,262.0 916.2,264.4C918.9,266.8 922.2,269.6 924.9,271.9C927.6,274.1 929.9,276.2 932.4,278.1C934.9,280.0 937.6,281.3 939.9,283.1C942.2,284.9 944.1,287.1 946.2,289.0C948.3,291.0 950.6,292.8 952.4,295.0C954.3,297.1 955.5,299.4 957.4,301.8C959.3,304.2 961.6,307.1 963.7,309.4C965.8,311.6 967.9,313.5 970.0,315.6C972.1,317.7 973.9,319.7 976.2,321.8C978.5,324.0 981.2,326.6 983.7,328.7C986.2,330.8 988.7,332.6 991.2,334.3C993.7,336.1 996.4,337.8 998.7,339.3C1001.0,340.9 1002.9,342.1 1005.0,343.7C1007.0,345.3 1009.1,347.3 1011.2,348.7C1013.3,350.1 1015.4,351.4 1017.4,352.2C1019.5,353.0 1021.6,353.4 1023.7,353.7C1025.8,354.0 1027.9,353.8 1029.9,353.9C1032.0,354.0 1034.1,354.3 1036.2,354.3C1038.3,354.4 1040.1,354.6 1042.4,354.3C1044.7,354.0 1047.4,353.1 1049.9,352.4C1052.4,351.8 1054.9,351.3 1057.4,350.6C1059.9,349.8 1062.4,348.8 1064.9,348.1C1067.4,347.3 1069.9,346.7 1072.4,346.2C1074.9,345.7 1077.5,345.3 1079.9,345.2C1082.3,345.1 1084.3,345.3 1086.8,345.4C1089.3,345.5 1092.4,345.8 1095.0,346.0C1097.6,346.2 1100.0,346.2 1102.5,346.5C1105.0,346.7 1107.5,347.0 1110.0,347.5C1112.5,348.0 1115.2,348.5 1117.5,349.4C1119.8,350.2 1121.6,351.4 1123.7,352.5C1125.8,353.5 1128.0,354.5 1130.0,355.6C1131.9,356.8 1134.0,358.0 1135.6,359.4C1137.1,360.7 1137.8,362.1 1139.3,363.5C1140.9,364.8 1143.0,366.0 1144.9,367.5C1146.9,369.0 1149.1,370.7 1151.2,372.5C1153.3,374.2 1155.4,376.1 1157.4,378.1C1159.5,380.1 1161.6,382.4 1163.7,384.3C1165.8,386.3 1167.8,387.9 1169.9,389.7C1172.0,391.5 1174.1,393.1 1176.2,395.0C1178.3,396.8 1180.3,398.6 1182.4,400.6C1184.5,402.6 1186.6,404.7 1188.7,406.8C1190.7,408.9 1193.0,411.2 1194.9,413.1C1196.8,414.9 1198.7,416.5 1199.9,418.1C1201.2,419.6 1202.0,421.5 1202.4,422.2" fill="none" stroke="#f23645" stroke-width="3" stroke-linejoin="round" stroke-linecap="round"/>
<path d="M9.9,385.6C10.4,385.8 11.9,386.9 13.0,386.8C14.1,386.7 15.3,385.7 16.7,385.0C18.2,384.2 20.1,383.1 21.7,382.5C23.4,381.8 25.3,381.3 26.7,381.0C28.2,380.7 29.4,380.4 30.5,380.6C31.5,380.7 31.7,381.1 33.0,381.8C34.2,382.6 36.2,383.9 38.0,385.0C39.7,386.1 41.9,387.8 43.6,388.5C45.3,389.1 46.4,388.4 48.0,388.7C49.5,389.0 51.3,389.8 53.0,390.2C54.6,390.6 56.4,390.9 58.0,391.2C59.5,391.5 61.1,391.4 62.3,392.2C63.6,393.0 64.3,394.9 65.5,396.2C66.6,397.5 68.1,398.3 69.2,400.0C70.3,401.6 71.2,405.1 72.3,406.2C73.5,407.3 74.7,406.5 76.1,406.8C77.4,407.1 78.9,408.2 80.4,408.1C82.0,408.0 83.8,406.7 85.4,406.2C87.1,405.7 88.8,405.3 90.4,405.0C92.1,404.6 93.6,404.4 95.4,404.0C97.3,403.5 99.6,403.0 101.7,402.5C103.8,401.9 105.6,401.3 107.9,400.6C110.2,399.9 113.5,399.2 115.4,398.1C117.3,396.9 117.9,395.9 119.2,393.7C120.4,391.5 121.5,387.9 122.9,385.0C124.4,382.1 126.2,379.1 127.9,376.2C129.6,373.3 131.2,370.2 132.9,367.5C134.6,364.8 136.0,362.5 137.9,360.0C139.8,357.5 141.9,355.3 144.1,352.5C146.4,349.7 148.6,346.3 151.2,343.0C153.8,339.8 157.7,335.1 160.0,333.0C162.2,331.0 163.3,331.9 165.0,330.9C166.6,330.0 168.3,328.7 169.9,327.4C171.6,326.1 173.6,324.9 174.9,323.1C176.3,321.2 176.9,318.6 178.1,316.2C179.2,313.8 180.7,311.2 181.8,308.7C183.0,306.2 183.4,304.3 184.9,301.2C186.5,298.1 189.0,293.5 191.2,290.0C193.4,286.4 195.8,282.9 198.1,280.0C200.3,277.0 202.9,274.2 204.9,272.5C206.9,270.7 208.6,270.7 209.9,269.3C211.3,268.0 211.8,266.0 213.0,264.3C214.3,262.7 215.6,261.7 217.4,259.4C219.2,257.0 222.1,252.8 223.7,250.0C225.2,247.2 225.5,244.4 226.8,242.5C228.0,240.6 229.4,240.5 231.2,238.7C232.9,237.0 235.8,234.1 237.4,232.2C239.1,230.3 239.8,228.8 241.2,227.4C242.5,226.1 244.3,225.1 245.6,224.3C246.8,223.6 247.3,223.2 248.7,223.1C250.0,222.9 252.0,223.2 253.7,223.4C255.3,223.7 256.8,224.3 258.7,224.3C260.5,224.4 263.0,223.8 264.9,223.7C266.8,223.6 268.2,223.6 269.9,223.9C271.6,224.3 273.5,225.0 274.9,225.6C276.4,226.2 277.4,227.1 278.7,227.4C279.9,227.8 280.9,227.9 282.4,227.7C283.9,227.5 285.7,227.4 287.4,226.2C289.1,225.0 290.7,222.0 292.4,220.6C294.1,219.1 295.7,218.0 297.4,217.5C299.1,216.9 300.7,217.1 302.4,217.2C304.1,217.3 305.8,217.9 307.5,218.1C309.2,218.2 310.8,218.0 312.5,218.1C314.2,218.2 316.0,218.2 317.5,218.5C318.9,218.7 319.8,219.3 321.2,219.7C322.7,220.2 324.6,220.4 326.2,221.2C327.9,222.0 329.7,223.1 331.2,224.3C332.8,225.6 334.1,228.1 335.6,228.7C337.1,229.3 338.4,228.0 340.0,227.7C341.5,227.4 342.9,227.5 345.0,226.8C347.0,226.2 350.4,224.5 352.5,223.7C354.5,222.9 356.0,222.5 357.5,221.8C358.9,221.2 359.7,220.5 361.2,220.0C362.7,219.4 364.5,218.9 366.2,218.5C367.9,218.0 369.7,217.9 371.2,217.2C372.7,216.5 373.3,215.2 374.9,214.3C376.6,213.4 379.1,212.6 381.2,211.8C383.3,211.1 385.4,210.4 387.4,209.7C389.5,209.0 391.8,208.8 393.7,207.5C395.6,206.2 397.2,204.0 398.7,201.9C400.1,199.7 401.0,197.2 402.4,194.4C403.9,191.5 406.0,188.2 407.4,185.0C408.9,181.7 409.8,177.8 411.2,174.9C412.7,172.0 414.1,170.3 416.2,167.4C418.3,164.5 421.4,159.9 423.7,157.4C426.0,154.9 428.1,153.8 430.0,152.4C431.8,151.1 433.5,150.1 435.0,149.3C436.4,148.5 437.5,148.4 438.7,147.4C440.0,146.5 441.0,145.0 442.5,143.7C443.9,142.3 445.8,140.4 447.5,139.3C449.1,138.3 450.8,138.2 452.4,137.5C454.1,136.7 455.8,135.8 457.4,135.0C459.1,134.1 460.8,133.0 462.4,132.5C464.1,131.9 465.8,131.6 467.4,131.5C469.1,131.3 471.0,131.1 472.4,131.5C473.9,131.8 474.9,132.8 476.2,133.7C477.4,134.6 478.5,135.9 479.9,136.8C481.4,137.8 483.3,138.7 484.9,139.3C486.6,139.9 488.3,140.2 489.9,140.6C491.6,141.0 493.3,141.8 494.9,141.8C496.6,141.8 498.2,141.0 499.9,140.6C501.6,140.2 503.2,139.9 504.9,139.3C506.6,138.7 508.2,137.9 509.9,136.8C511.6,135.8 513.2,134.6 514.9,133.1C516.6,131.5 518.4,128.6 519.9,127.5C521.4,126.4 522.0,126.6 523.6,126.5C525.3,126.4 527.8,126.8 529.9,126.8C532.0,126.9 534.3,126.3 536.1,126.8C538.0,127.4 539.7,128.8 541.1,130.0C542.6,131.1 543.5,132.6 545.0,133.7C546.5,134.9 548.5,136.4 550.0,136.8C551.4,137.3 552.3,135.8 553.7,136.2C555.2,136.6 556.9,137.8 558.7,139.3C560.6,140.9 562.7,143.7 565.0,145.6C567.3,147.5 570.0,148.3 572.5,150.6C575.0,152.9 577.7,156.8 580.0,159.3C582.3,161.8 583.9,164.2 586.2,165.6C588.5,166.9 591.4,166.8 593.7,167.5C596.0,168.1 597.9,169.0 600.0,169.7C602.0,170.4 604.1,171.4 606.2,171.8C608.3,172.2 610.6,172.3 612.4,172.2C614.3,172.1 616.0,171.8 617.4,171.2C618.9,170.6 619.7,169.7 621.2,168.7C622.6,167.7 624.3,166.2 626.2,165.0C628.1,163.7 630.4,162.5 632.4,161.2C634.5,160.0 636.4,158.8 638.7,157.5C641.0,156.1 643.9,154.2 646.2,153.1C648.5,152.0 650.5,151.4 652.4,151.0C654.3,150.5 655.7,150.3 657.4,150.6C659.1,150.8 660.7,151.8 662.4,152.5C664.1,153.1 665.7,153.3 667.4,154.3C669.1,155.4 670.7,157.2 672.4,158.7C674.1,160.2 675.9,162.1 677.4,163.1C678.9,164.0 679.7,164.3 681.1,164.3C682.6,164.3 684.7,163.6 686.1,163.1C687.6,162.6 688.6,162.6 689.9,161.2C691.1,159.9 692.4,157.0 693.6,155.0C694.9,152.9 696.0,151.0 697.5,148.7C699.0,146.4 701.0,143.5 702.5,141.2C703.9,138.9 705.0,137.0 706.2,134.9C707.5,132.9 708.5,130.6 710.0,128.7C711.4,126.8 713.3,125.4 715.0,123.7C716.6,122.0 718.6,118.8 720.0,118.4C721.3,118.1 721.9,120.2 723.1,121.8C724.2,123.4 725.3,126.6 726.8,128.1C728.4,129.5 730.7,129.6 732.5,130.6C734.2,131.5 735.8,132.3 737.5,133.9C739.1,135.6 741.0,138.5 742.5,140.6C743.9,142.6 745.2,144.1 746.2,146.2C747.2,148.3 747.5,150.8 748.7,153.1C750.0,155.4 751.9,158.2 753.7,160.0C755.5,161.8 757.7,162.3 759.3,163.7C761.0,165.2 762.3,167.4 763.7,168.7C765.1,170.0 766.0,170.8 767.5,171.5C768.9,172.1 770.8,172.7 772.4,172.7C774.1,172.8 776.0,172.3 777.4,171.9C778.9,171.4 779.7,170.5 781.2,170.0C782.6,169.5 784.7,168.6 786.2,168.7C787.6,168.8 788.5,169.8 789.9,170.6C791.4,171.4 793.3,172.9 794.9,173.7C796.6,174.6 798.2,175.1 799.9,175.6C801.7,176.1 804.1,175.5 805.5,176.5C807.0,177.4 807.5,179.3 808.7,181.2C809.8,183.2 811.0,185.8 812.4,188.1C813.9,190.4 815.7,192.7 817.4,195.0C819.1,197.2 820.7,199.9 822.4,201.8C824.1,203.8 825.6,205.6 827.4,206.8C829.2,208.0 831.6,208.0 833.0,208.9C834.5,209.9 835.0,211.2 836.1,212.4C837.3,213.7 838.6,214.5 839.9,216.2C841.1,217.9 842.2,219.7 843.6,222.4C845.1,225.1 847.0,228.7 848.6,232.4C850.3,236.2 852.2,241.7 853.7,245.0C855.2,248.3 856.1,250.0 857.5,252.5C858.8,255.0 860.6,257.7 861.8,260.0C863.1,262.3 863.9,263.5 864.9,266.2C866.0,268.9 867.0,272.9 868.1,276.2C869.1,279.6 870.1,282.9 871.2,286.2C872.2,289.5 873.3,293.5 874.3,296.2C875.4,298.9 876.1,300.0 877.4,302.5C878.8,305.0 880.6,308.6 882.4,311.2C884.3,313.8 886.6,316.4 888.7,318.1C890.8,319.7 893.0,320.3 894.9,321.2C896.8,322.1 898.3,322.5 899.9,323.7C901.6,324.8 903.5,326.8 904.9,328.1C906.4,329.3 907.0,330.6 908.7,331.2C910.3,331.8 913.0,331.6 914.9,331.8C916.8,332.0 918.2,331.9 919.9,332.4C921.6,333.0 923.2,334.3 924.9,334.9C926.6,335.5 928.0,335.8 929.9,335.9C931.8,336.1 934.1,336.1 936.1,335.9C938.2,335.8 940.3,334.9 942.4,334.9C944.5,335.0 946.8,335.3 948.6,336.2C950.5,337.0 951.5,338.3 953.6,339.9C955.7,341.6 959.1,344.4 961.2,346.2C963.3,348.0 964.4,349.8 966.2,350.9C968.1,352.1 970.2,352.5 972.5,353.1C974.8,353.6 977.5,353.8 980.0,354.3C982.5,354.9 985.0,355.7 987.5,356.4C990.0,357.2 992.5,358.1 995.0,358.7C997.5,359.3 1000.0,359.5 1002.5,359.9C1005.0,360.4 1007.7,361.2 1009.9,361.4C1012.2,361.6 1014.3,361.5 1016.2,361.2C1018.1,360.8 1019.5,360.3 1021.2,359.3C1022.9,358.4 1024.5,356.9 1026.2,355.6C1027.9,354.2 1029.5,352.4 1031.2,351.2C1032.8,350.0 1034.3,349.1 1036.2,348.4C1038.1,347.8 1040.3,347.6 1042.4,347.2C1044.5,346.8 1046.6,346.6 1048.7,346.2C1050.8,345.8 1053.0,345.8 1054.9,344.7C1056.8,343.6 1058.2,341.5 1059.9,339.7C1061.6,337.9 1063.2,335.4 1064.9,333.7C1066.6,332.0 1068.4,330.4 1069.9,329.3C1071.4,328.3 1072.4,327.8 1073.7,327.5C1074.9,327.1 1076.1,327.0 1077.4,327.2C1078.6,327.5 1079.4,328.0 1081.1,329.0C1082.9,329.9 1085.5,331.8 1088.1,333.1C1090.6,334.4 1094.0,335.5 1096.2,336.9C1098.4,338.2 1099.6,340.1 1101.2,341.2C1102.9,342.3 1104.6,342.9 1106.2,343.5C1107.9,344.1 1109.8,343.9 1111.2,345.0C1112.7,346.1 1113.7,348.3 1115.0,350.0C1116.2,351.7 1117.6,353.1 1118.7,355.0C1119.9,356.9 1120.8,358.8 1121.8,361.2C1122.9,363.6 1123.6,366.5 1125.0,369.3C1126.3,372.2 1128.3,374.4 1130.0,378.1C1131.6,381.7 1133.7,387.4 1135.0,391.2C1136.2,395.1 1136.7,398.1 1137.5,401.2C1138.2,404.3 1138.0,405.1 1139.3,409.9C1140.7,414.7 1143.8,425.5 1145.6,430.0C1147.4,434.5 1148.6,434.6 1150.0,436.9C1151.3,439.2 1152.5,441.6 1153.7,443.7C1155.0,445.9 1156.4,447.8 1157.5,450.0C1158.5,452.2 1158.9,454.6 1160.0,456.9C1161.0,459.1 1162.5,461.5 1163.7,463.7C1165.0,465.9 1166.0,467.9 1167.5,470.0C1168.9,472.1 1170.8,474.3 1172.4,476.2C1174.1,478.1 1175.8,479.2 1177.4,481.2C1179.1,483.2 1180.8,485.9 1182.4,488.1C1184.1,490.3 1185.8,492.7 1187.4,494.3C1189.1,496.0 1190.6,496.7 1192.4,498.1C1194.3,499.4 1197.0,500.8 1198.7,502.4C1200.3,504.1 1201.8,507.1 1202.4,508.1" fill="none" stroke="#2962ff" stroke-width="3" stroke-linejoin="round" stroke-linecap="round"/></g>
<g shape-rendering="crispEdges">
<rect x="13" y="392" width="1" height="7" fill="#ef5350"/><rect x="12" y="397" width="3" height="2" fill="#ef5350"/><rect x="16" y="379" width="1" height="20" fill="#26a69a"/><rect x="15" y="379" width="3" height="20" fill="#26a69a"/><rect x="20" y="358" width="1" height="26" fill="#26a69a"/><rect x="19" y="368" width="3" height="11" fill="#26a69a"/><rect x="23" y="360" width="1" height="17" fill="#ef5350"/><rect x="22" y="368" width="3" height="1" fill="#ef5350"/><rect x="27" y="362" width="1" height="19" fill="#ef5350"/><rect x="26" y="369" width="3" height="5" fill="#ef5350"/><rect x="30" y="366" width="1" height="15" fill="#26a69a"/><rect x="29" y="370" width="3" height="4" fill="#26a69a"/><rect x="34" y="368" width="1" height="32" fill="#ef5350"/><rect x="33" y="370" width="3" height="24" fill="#ef5350"/><rect x="37" y="391" width="1" height="24" fill="#ef5350"/><rect x="36" y="394" width="3" height="14" fill="#ef5350"/><rect x="41" y="400" width="1" height="16" fill="#ef5350"/><rect x="40" y="408" width="3" height="2" fill="#ef5350"/><rect x="44" y="397" width="1" height="21" fill="#26a69a"/><rect x="43" y="408" width="3" height="2" fill="#26a69a"/><rect x="48" y="384" width="1" height="25" fill="#26a69a"/><rect x="47" y="387" width="3" height="21" fill="#26a69a"/><rect x="51" y="360" width="1" height="50" fill="#ef5350"/><rect x="50" y="387" width="3" height="22" fill="#ef5350"/><rect x="55" y="396" width="1" height="23" fill="#26a69a"/><rect x="54" y="403" width="3" height="6" fill="#26a69a"/><rect x="58" y="390" width="1" height="25" fill="#26a69a"/><rect x="57" y="397" width="3" height="6" fill="#26a69a"/><rect x="62" y="394" width="1" height="15" fill="#ef5350"/><rect x="61" y="397" width="3" height="4" fill="#ef5350"/><rect x="65" y="398" width="1" height="53" fill="#ef5350"/><rect x="64" y="401" width="3" height="41" fill="#ef5350"/><rect x="69" y="418" width="1" height="55" fill="#26a69a"/><rect x="68" y="435" width="3" height="7" fill="#26a69a"/><rect x="72" y="421" width="1" height="38" fill="#ef5350"/><rect x="71" y="435" width="3" height="24" fill="#ef5350"/><rect x="76" y="400" width="1" height="73" fill="#26a69a"/><rect x="75" y="407" width="3" height="52" fill="#26a69a"/><rect x="79" y="407" width="1" height="34" fill="#ef5350"/><rect x="78" y="407" width="3" height="26" fill="#ef5350"/><rect x="83" y="394" width="1" height="43" fill="#26a69a"/><rect x="82" y="401" width="3" height="32" fill="#26a69a"/><rect x="86" y="381" width="1" height="24" fill="#26a69a"/><rect x="85" y="386" width="3" height="15" fill="#26a69a"/><rect x="90" y="379" width="1" height="24" fill="#ef5350"/><rect x="89" y="386" width="3" height="13" fill="#ef5350"/><rect x="94" y="382" width="1" height="17" fill="#26a69a"/><rect x="93" y="391" width="3" height="8" fill="#26a69a"/><rect x="97" y="376" width="1" height="24" fill="#ef5350"/><rect x="96" y="391" width="3" height="8" fill="#ef5350"/><rect x="101" y="384" width="1" height="18" fill="#26a69a"/><rect x="100" y="396" width="3" height="3" fill="#26a69a"/><rect x="104" y="384" width="1" height="13" fill="#26a69a"/><rect x="103" y="389" width="3" height="7" fill="#26a69a"/><rect x="108" y="387" width="1" height="6" fill="#ef5350"/><rect x="107" y="389" width="3" height="4" fill="#ef5350"/><rect x="111" y="383" width="1" height="10" fill="#26a69a"/><rect x="110" y="388" width="3" height="5" fill="#26a69a"/><rect x="115" y="386" width="1" height="10" fill="#26a69a"/><rect x="114" y="387" width="3" height="1" fill="#26a69a"/><rect x="118" y="360" width="1" height="27" fill="#26a69a"/><rect x="117" y="368" width="3" height="19" fill="#26a69a"/><rect x="122" y="317" width="1" height="54" fill="#26a69a"/><rect x="121" y="320" width="3" height="48" fill="#26a69a"/><rect x="125" y="310" width="1" height="22" fill="#26a69a"/><rect x="124" y="318" width="3" height="2" fill="#26a69a"/><rect x="129" y="316" width="1" height="19" fill="#26a69a"/><rect x="128" y="316" width="3" height="2" fill="#26a69a"/><rect x="132" y="302" width="1" height="23" fill="#26a69a"/><rect x="131" y="311" width="3" height="5" fill="#26a69a"/><rect x="136" y="306" width="1" height="11" fill="#ef5350"/><rect x="135" y="311" width="3" height="1" fill="#ef5350"/><rect x="139" y="305" width="1" height="14" fill="#ef5350"/><rect x="138" y="312" width="3" height="7" fill="#ef5350"/><rect x="143" y="303" width="1" height="22" fill="#26a69a"/><rect x="142" y="308" width="3" height="11" fill="#26a69a"/><rect x="146" y="304" width="1" height="14" fill="#ef5350"/><rect x="145" y="308" width="3" height="7" fill="#ef5350"/><rect x="150" y="306" width="1" height="19" fill="#ef5350"/><rect x="149" y="315" width="3" height="1" fill="#ef5350"/><rect x="153" y="288" width="1" height="27" fill="#26a69a"/><rect x="152" y="296" width="3" height="19" fill="#26a69a"/><rect x="157" y="284" width="1" height="13" fill="#26a69a"/><rect x="156" y="293" width="3" height="3" fill="#26a69a"/><rect x="160" y="292" width="1" height="10" fill="#ef5350"/><rect x="159" y="293" width="3" height="9" fill="#ef5350"/><rect x="164" y="297" width="1" height="18" fill="#ef5350"/><rect x="163" y="302" width="3" height="13" fill="#ef5350"/><rect x="167" y="306" width="1" height="14" fill="#26a69a"/><rect x="166" y="310" width="3" height="5" fill="#26a69a"/><rect x="171" y="292" width="1" height="29" fill="#26a69a"/><rect x="170" y="293" width="3" height="17" fill="#26a69a"/><rect x="174" y="286" width="1" height="15" fill="#26a69a"/><rect x="173" y="291" width="3" height="2" fill="#26a69a"/><rect x="178" y="234" width="1" height="58" fill="#26a69a"/><rect x="177" y="241" width="3" height="50" fill="#26a69a"/><rect x="182" y="232" width="1" height="17" fill="#ef5350"/><rect x="181" y="241" width="3" height="4" fill="#ef5350"/><rect x="185" y="227" width="1" height="18" fill="#26a69a"/><rect x="184" y="229" width="3" height="16" fill="#26a69a"/><rect x="189" y="227" width="1" height="14" fill="#ef5350"/><rect x="188" y="229" width="3" height="6" fill="#ef5350"/><rect x="192" y="221" width="1" height="41" fill="#ef5350"/><rect x="191" y="235" width="3" height="11" fill="#ef5350"/><rect x="196" y="227" width="1" height="29" fill="#26a69a"/><rect x="195" y="234" width="3" height="12" fill="#26a69a"/><rect x="199" y="232" width="1" height="15" fill="#ef5350"/><rect x="198" y="234" width="3" height="6" fill="#ef5350"/><rect x="203" y="234" width="1" height="22" fill="#26a69a"/><rect x="202" y="237" width="3" height="3" fill="#26a69a"/><rect x="206" y="231" width="1" height="11" fill="#ef5350"/><rect x="205" y="237" width="3" height="4" fill="#ef5350"/><rect x="210" y="238" width="1" height="8" fill="#ef5350"/><rect x="209" y="241" width="3" height="2" fill="#ef5350"/><rect x="213" y="214" width="1" height="29" fill="#26a69a"/><rect x="212" y="216" width="3" height="27" fill="#26a69a"/><rect x="217" y="210" width="1" height="41" fill="#ef5350"/><rect x="216" y="216" width="3" height="8" fill="#ef5350"/><rect x="220" y="209" width="1" height="25" fill="#26a69a"/><rect x="219" y="212" width="3" height="12" fill="#26a69a"/><rect x="224" y="181" width="1" height="36" fill="#26a69a"/><rect x="223" y="191" width="3" height="21" fill="#26a69a"/><rect x="227" y="171" width="1" height="23" fill="#26a69a"/><rect x="226" y="173" width="3" height="18" fill="#26a69a"/><rect x="231" y="173" width="1" height="39" fill="#ef5350"/><rect x="230" y="173" width="3" height="37" fill="#ef5350"/><rect x="234" y="191" width="1" height="20" fill="#26a69a"/><rect x="233" y="206" width="3" height="4" fill="#26a69a"/><rect x="238" y="193" width="1" height="20" fill="#26a69a"/><rect x="237" y="195" width="3" height="11" fill="#26a69a"/><rect x="241" y="184" width="1" height="14" fill="#26a69a"/><rect x="240" y="192" width="3" height="3" fill="#26a69a"/><rect x="245" y="181" width="1" height="25" fill="#ef5350"/><rect x="244" y="192" width="3" height="4" fill="#ef5350"/><rect x="248" y="193" width="1" height="19" fill="#ef5350"/><rect x="247" y="196" width="3" height="10" fill="#ef5350"/><rect x="252" y="196" width="1" height="28" fill="#ef5350"/><rect x="251" y="206" width="3" height="17" fill="#ef5350"/><rect x="255" y="217" width="1" height="21" fill="#ef5350"/><rect x="254" y="223" width="3" height="13" fill="#ef5350"/><rect x="259" y="228" width="1" height="15" fill="#26a69a"/><rect x="258" y="231" width="3" height="5" fill="#26a69a"/><rect x="263" y="220" width="1" height="17" fill="#26a69a"/><rect x="262" y="222" width="3" height="9" fill="#26a69a"/><rect x="266" y="220" width="1" height="18" fill="#26a69a"/><rect x="265" y="220" width="3" height="2" fill="#26a69a"/><rect x="270" y="213" width="1" height="15" fill="#ef5350"/><rect x="269" y="220" width="3" height="5" fill="#ef5350"/><rect x="273" y="219" width="1" height="15" fill="#ef5350"/><rect x="272" y="225" width="3" height="6" fill="#ef5350"/><rect x="277" y="220" width="1" height="44" fill="#ef5350"/><rect x="276" y="231" width="3" height="25" fill="#ef5350"/><rect x="280" y="226" width="1" height="33" fill="#26a69a"/><rect x="279" y="233" width="3" height="23" fill="#26a69a"/><rect x="284" y="220" width="1" height="16" fill="#26a69a"/><rect x="283" y="223" width="3" height="10" fill="#26a69a"/><rect x="287" y="215" width="1" height="12" fill="#26a69a"/><rect x="286" y="221" width="3" height="2" fill="#26a69a"/><rect x="291" y="183" width="1" height="41" fill="#26a69a"/><rect x="290" y="185" width="3" height="36" fill="#26a69a"/><rect x="294" y="184" width="1" height="16" fill="#26a69a"/><rect x="293" y="185" width="3" height="1" fill="#26a69a"/><rect x="298" y="184" width="1" height="18" fill="#ef5350"/><rect x="297" y="185" width="3" height="14" fill="#ef5350"/><rect x="301" y="197" width="1" height="26" fill="#ef5350"/><rect x="300" y="199" width="3" height="24" fill="#ef5350"/><rect x="305" y="217" width="1" height="29" fill="#26a69a"/><rect x="304" y="218" width="3" height="5" fill="#26a69a"/><rect x="308" y="217" width="1" height="15" fill="#ef5350"/><rect x="307" y="218" width="3" height="7" fill="#ef5350"/><rect x="312" y="218" width="1" height="13" fill="#26a69a"/><rect x="311" y="222" width="3" height="3" fill="#26a69a"/><rect x="315" y="195" width="1" height="32" fill="#26a69a"/><rect x="314" y="213" width="3" height="9" fill="#26a69a"/><rect x="319" y="205" width="1" height="35" fill="#ef5350"/><rect x="318" y="213" width="3" height="19" fill="#ef5350"/><rect x="322" y="223" width="1" height="16" fill="#26a69a"/><rect x="321" y="228" width="3" height="4" fill="#26a69a"/><rect x="326" y="225" width="1" height="11" fill="#ef5350"/><rect x="325" y="228" width="3" height="3" fill="#ef5350"/><rect x="329" y="215" width="1" height="34" fill="#ef5350"/><rect x="328" y="231" width="3" height="11" fill="#ef5350"/><rect x="333" y="235" width="1" height="26" fill="#ef5350"/><rect x="332" y="242" width="3" height="9" fill="#ef5350"/><rect x="336" y="240" width="1" height="42" fill="#ef5350"/><rect x="335" y="251" width="3" height="10" fill="#ef5350"/><rect x="340" y="219" width="1" height="52" fill="#26a69a"/><rect x="339" y="226" width="3" height="35" fill="#26a69a"/><rect x="343" y="217" width="1" height="13" fill="#26a69a"/><rect x="342" y="219" width="3" height="7" fill="#26a69a"/><rect x="347" y="202" width="1" height="19" fill="#26a69a"/><rect x="346" y="208" width="3" height="11" fill="#26a69a"/><rect x="351" y="201" width="1" height="14" fill="#ef5350"/><rect x="350" y="208" width="3" height="5" fill="#ef5350"/><rect x="354" y="205" width="1" height="11" fill="#26a69a"/><rect x="353" y="211" width="3" height="2" fill="#26a69a"/><rect x="358" y="206" width="1" height="7" fill="#26a69a"/><rect x="357" y="209" width="3" height="2" fill="#26a69a"/><rect x="361" y="199" width="1" height="11" fill="#26a69a"/><rect x="360" y="200" width="3" height="9" fill="#26a69a"/><rect x="365" y="197" width="1" height="16" fill="#ef5350"/><rect x="364" y="200" width="3" height="11" fill="#ef5350"/><rect x="368" y="207" width="1" height="18" fill="#ef5350"/><rect x="367" y="211" width="3" height="11" fill="#ef5350"/><rect x="372" y="189" width="1" height="37" fill="#26a69a"/><rect x="371" y="196" width="3" height="26" fill="#26a69a"/><rect x="375" y="183" width="1" height="16" fill="#26a69a"/><rect x="374" y="190" width="3" height="6" fill="#26a69a"/><rect x="379" y="189" width="1" height="20" fill="#ef5350"/><rect x="378" y="190" width="3" height="13" fill="#ef5350"/><rect x="382" y="200" width="1" height="5" fill="#26a69a"/><rect x="381" y="203" width="3" height="1" fill="#26a69a"/><rect x="386" y="189" width="1" height="16" fill="#26a69a"/><rect x="385" y="193" width="3" height="10" fill="#26a69a"/><rect x="389" y="189" width="1" height="18" fill="#ef5350"/><rect x="388" y="193" width="3" height="8" fill="#ef5350"/><rect x="393" y="193" width="1" height="14" fill="#26a69a"/><rect x="392" y="196" width="3" height="5" fill="#26a69a"/><rect x="396" y="171" width="1" height="29" fill="#26a69a"/><rect x="395" y="177" width="3" height="19" fill="#26a69a"/><rect x="400" y="132" width="1" height="50" fill="#26a69a"/><rect x="399" y="139" width="3" height="38" fill="#26a69a"/><rect x="403" y="116" width="1" height="29" fill="#26a69a"/><rect x="402" y="126" width="3" height="13" fill="#26a69a"/><rect x="407" y="121" width="1" height="10" fill="#ef5350"/><rect x="406" y="126" width="3" height="1" fill="#ef5350"/><rect x="410" y="111" width="1" height="18" fill="#26a69a"/><rect x="409" y="114" width="3" height="13" fill="#26a69a"/><rect x="414" y="81" width="1" height="34" fill="#26a69a"/><rect x="413" y="108" width="3" height="6" fill="#26a69a"/><rect x="417" y="107" width="1" height="34" fill="#ef5350"/><rect x="416" y="108" width="3" height="18" fill="#ef5350"/><rect x="421" y="106" width="1" height="25" fill="#26a69a"/><rect x="420" y="118" width="3" height="8" fill="#26a69a"/><rect x="424" y="99" width="1" height="28" fill="#26a69a"/><rect x="423" y="113" width="3" height="5" fill="#26a69a"/><rect x="428" y="100" width="1" height="32" fill="#ef5350"/><rect x="427" y="113" width="3" height="11" fill="#ef5350"/><rect x="431" y="119" width="1" height="9" fill="#ef5350"/><rect x="430" y="124" width="3" height="1" fill="#ef5350"/><rect x="435" y="116" width="1" height="19" fill="#ef5350"/><rect x="434" y="124" width="3" height="6" fill="#ef5350"/><rect x="439" y="109" width="1" height="26" fill="#26a69a"/><rect x="438" y="128" width="3" height="2" fill="#26a69a"/><rect x="442" y="105" width="1" height="33" fill="#26a69a"/><rect x="441" y="107" width="3" height="21" fill="#26a69a"/><rect x="446" y="106" width="1" height="22" fill="#ef5350"/><rect x="445" y="107" width="3" height="10" fill="#ef5350"/><rect x="449" y="111" width="1" height="19" fill="#ef5350"/><rect x="448" y="117" width="3" height="4" fill="#ef5350"/><rect x="453" y="119" width="1" height="30" fill="#ef5350"/><rect x="452" y="121" width="3" height="6" fill="#ef5350"/><rect x="456" y="120" width="1" height="10" fill="#26a69a"/><rect x="455" y="123" width="3" height="4" fill="#26a69a"/><rect x="460" y="108" width="1" height="16" fill="#26a69a"/><rect x="459" y="111" width="3" height="12" fill="#26a69a"/><rect x="463" y="108" width="1" height="19" fill="#ef5350"/><rect x="462" y="111" width="3" height="12" fill="#ef5350"/><rect x="467" y="112" width="1" height="19" fill="#ef5350"/><rect x="466" y="123" width="3" height="1" fill="#ef5350"/><rect x="470" y="116" width="1" height="24" fill="#ef5350"/><rect x="469" y="123" width="3" height="1" fill="#ef5350"/><rect x="474" y="115" width="1" height="28" fill="#ef5350"/><rect x="473" y="124" width="3" height="18" fill="#ef5350"/><rect x="477" y="138" width="1" height="27" fill="#ef5350"/><rect x="476" y="142" width="3" height="19" fill="#ef5350"/><rect x="481" y="154" width="1" height="16" fill="#ef5350"/><rect x="480" y="161" width="3" height="7" fill="#ef5350"/><rect x="484" y="148" width="1" height="24" fill="#26a69a"/><rect x="483" y="153" width="3" height="15" fill="#26a69a"/><rect x="488" y="141" width="1" height="13" fill="#26a69a"/><rect x="487" y="146" width="3" height="7" fill="#26a69a"/><rect x="491" y="146" width="1" height="20" fill="#ef5350"/><rect x="490" y="146" width="3" height="9" fill="#ef5350"/><rect x="495" y="141" width="1" height="19" fill="#26a69a"/><rect x="494" y="147" width="3" height="8" fill="#26a69a"/><rect x="498" y="126" width="1" height="27" fill="#26a69a"/><rect x="497" y="127" width="3" height="20" fill="#26a69a"/><rect x="502" y="126" width="1" height="14" fill="#ef5350"/><rect x="501" y="127" width="3" height="7" fill="#ef5350"/><rect x="505" y="123" width="1" height="13" fill="#ef5350"/><rect x="504" y="134" width="3" height="2" fill="#ef5350"/><rect x="509" y="112" width="1" height="24" fill="#26a69a"/><rect x="508" y="112" width="3" height="24" fill="#26a69a"/><rect x="512" y="88" width="1" height="34" fill="#ef5350"/><rect x="511" y="112" width="3" height="6" fill="#ef5350"/><rect x="516" y="104" width="1" height="17" fill="#26a69a"/><rect x="515" y="105" width="3" height="13" fill="#26a69a"/><rect x="519" y="77" width="1" height="38" fill="#26a69a"/><rect x="518" y="80" width="3" height="25" fill="#26a69a"/><rect x="523" y="71" width="1" height="57" fill="#ef5350"/><rect x="522" y="80" width="3" height="41" fill="#ef5350"/><rect x="527" y="113" width="1" height="19" fill="#ef5350"/><rect x="526" y="121" width="3" height="8" fill="#ef5350"/><rect x="530" y="123" width="1" height="7" fill="#26a69a"/><rect x="529" y="128" width="3" height="1" fill="#26a69a"/><rect x="534" y="118" width="1" height="11" fill="#26a69a"/><rect x="533" y="126" width="3" height="2" fill="#26a69a"/><rect x="537" y="126" width="1" height="24" fill="#ef5350"/><rect x="536" y="126" width="3" height="12" fill="#ef5350"/><rect x="541" y="133" width="1" height="32" fill="#ef5350"/><rect x="540" y="138" width="3" height="27" fill="#ef5350"/><rect x="544" y="150" width="1" height="18" fill="#26a69a"/><rect x="543" y="153" width="3" height="12" fill="#26a69a"/><rect x="548" y="148" width="1" height="23" fill="#ef5350"/><rect x="547" y="153" width="3" height="15" fill="#ef5350"/><rect x="551" y="127" width="1" height="45" fill="#26a69a"/><rect x="550" y="131" width="3" height="37" fill="#26a69a"/><rect x="555" y="130" width="1" height="20" fill="#ef5350"/><rect x="554" y="131" width="3" height="12" fill="#ef5350"/><rect x="558" y="140" width="1" height="42" fill="#ef5350"/><rect x="557" y="143" width="3" height="17" fill="#ef5350"/><rect x="562" y="157" width="1" height="36" fill="#ef5350"/><rect x="561" y="160" width="3" height="27" fill="#ef5350"/><rect x="565" y="168" width="1" height="30" fill="#26a69a"/><rect x="564" y="173" width="3" height="14" fill="#26a69a"/><rect x="569" y="166" width="1" height="17" fill="#ef5350"/><rect x="568" y="173" width="3" height="5" fill="#ef5350"/><rect x="572" y="159" width="1" height="21" fill="#26a69a"/><rect x="571" y="166" width="3" height="12" fill="#26a69a"/><rect x="576" y="166" width="1" height="41" fill="#ef5350"/><rect x="575" y="166" width="3" height="35" fill="#ef5350"/><rect x="579" y="196" width="1" height="12" fill="#26a69a"/><rect x="578" y="197" width="3" height="4" fill="#26a69a"/><rect x="583" y="191" width="1" height="10" fill="#ef5350"/><rect x="582" y="197" width="3" height="4" fill="#ef5350"/><rect x="586" y="188" width="1" height="21" fill="#26a69a"/><rect x="585" y="193" width="3" height="8" fill="#26a69a"/><rect x="590" y="173" width="1" height="27" fill="#26a69a"/><rect x="589" y="177" width="3" height="16" fill="#26a69a"/><rect x="593" y="166" width="1" height="17" fill="#26a69a"/><rect x="592" y="173" width="3" height="4" fill="#26a69a"/><rect x="597" y="169" width="1" height="23" fill="#ef5350"/><rect x="596" y="173" width="3" height="9" fill="#ef5350"/><rect x="600" y="160" width="1" height="25" fill="#ef5350"/><rect x="599" y="182" width="3" height="1" fill="#ef5350"/><rect x="604" y="176" width="1" height="11" fill="#ef5350"/><rect x="603" y="182" width="3" height="4" fill="#ef5350"/><rect x="608" y="174" width="1" height="12" fill="#26a69a"/><rect x="607" y="178" width="3" height="8" fill="#26a69a"/><rect x="611" y="163" width="1" height="19" fill="#26a69a"/><rect x="610" y="171" width="3" height="7" fill="#26a69a"/><rect x="615" y="161" width="1" height="20" fill="#ef5350"/><rect x="614" y="171" width="3" height="5" fill="#ef5350"/><rect x="618" y="152" width="1" height="28" fill="#26a69a"/><rect x="617" y="155" width="3" height="21" fill="#26a69a"/><rect x="622" y="143" width="1" height="15" fill="#26a69a"/><rect x="621" y="143" width="3" height="12" fill="#26a69a"/><rect x="625" y="133" width="1" height="16" fill="#26a69a"/><rect x="624" y="138" width="3" height="5" fill="#26a69a"/><rect x="629" y="136" width="1" height="10" fill="#ef5350"/><rect x="628" y="138" width="3" height="1" fill="#ef5350"/><rect x="632" y="137" width="1" height="9" fill="#ef5350"/><rect x="631" y="139" width="3" height="7" fill="#ef5350"/><rect x="636" y="133" width="1" height="18" fill="#26a69a"/><rect x="635" y="144" width="3" height="2" fill="#26a69a"/><rect x="639" y="131" width="1" height="18" fill="#26a69a"/><rect x="638" y="132" width="3" height="12" fill="#26a69a"/><rect x="643" y="128" width="1" height="21" fill="#ef5350"/><rect x="642" y="132" width="3" height="4" fill="#ef5350"/><rect x="646" y="123" width="1" height="14" fill="#26a69a"/><rect x="645" y="130" width="3" height="6" fill="#26a69a"/><rect x="650" y="127" width="1" height="19" fill="#ef5350"/><rect x="649" y="130" width="3" height="13" fill="#ef5350"/><rect x="653" y="138" width="1" height="5" fill="#26a69a"/><rect x="652" y="141" width="3" height="2" fill="#26a69a"/><rect x="657" y="140" width="1" height="6" fill="#ef5350"/><rect x="656" y="141" width="3" height="5" fill="#ef5350"/><rect x="660" y="144" width="1" height="29" fill="#ef5350"/><rect x="659" y="146" width="3" height="21" fill="#ef5350"/><rect x="664" y="161" width="1" height="14" fill="#ef5350"/><rect x="663" y="167" width="3" height="5" fill="#ef5350"/><rect x="667" y="155" width="1" height="24" fill="#26a69a"/><rect x="666" y="160" width="3" height="12" fill="#26a69a"/><rect x="671" y="159" width="1" height="39" fill="#ef5350"/><rect x="670" y="160" width="3" height="36" fill="#ef5350"/><rect x="674" y="185" width="1" height="13" fill="#26a69a"/><rect x="673" y="190" width="3" height="6" fill="#26a69a"/><rect x="678" y="189" width="1" height="6" fill="#ef5350"/><rect x="677" y="190" width="3" height="1" fill="#ef5350"/><rect x="681" y="168" width="1" height="26" fill="#26a69a"/><rect x="680" y="170" width="3" height="20" fill="#26a69a"/><rect x="685" y="152" width="1" height="22" fill="#26a69a"/><rect x="684" y="152" width="3" height="18" fill="#26a69a"/><rect x="688" y="148" width="1" height="18" fill="#ef5350"/><rect x="687" y="152" width="3" height="3" fill="#ef5350"/><rect x="692" y="117" width="1" height="38" fill="#26a69a"/><rect x="691" y="118" width="3" height="37" fill="#26a69a"/><rect x="696" y="98" width="1" height="21" fill="#26a69a"/><rect x="695" y="102" width="3" height="16" fill="#26a69a"/><rect x="699" y="75" width="1" height="38" fill="#26a69a"/><rect x="698" y="89" width="3" height="13" fill="#26a69a"/><rect x="703" y="84" width="1" height="10" fill="#26a69a"/><rect x="702" y="87" width="3" height="2" fill="#26a69a"/><rect x="706" y="61" width="1" height="27" fill="#26a69a"/><rect x="705" y="79" width="3" height="8" fill="#26a69a"/><rect x="710" y="57" width="1" height="25" fill="#26a69a"/><rect x="709" y="69" width="3" height="10" fill="#26a69a"/><rect x="713" y="65" width="1" height="37" fill="#ef5350"/><rect x="712" y="69" width="3" height="28" fill="#ef5350"/><rect x="717" y="73" width="1" height="25" fill="#26a69a"/><rect x="716" y="80" width="3" height="17" fill="#26a69a"/><rect x="720" y="76" width="1" height="33" fill="#ef5350"/><rect x="719" y="80" width="3" height="14" fill="#ef5350"/><rect x="724" y="86" width="1" height="165" fill="#ef5350"/><rect x="723" y="94" width="3" height="72" fill="#ef5350"/><rect x="727" y="160" width="1" height="31" fill="#ef5350"/><rect x="726" y="166" width="3" height="17" fill="#ef5350"/><rect x="731" y="141" width="1" height="50" fill="#26a69a"/><rect x="730" y="147" width="3" height="36" fill="#26a69a"/><rect x="734" y="140" width="1" height="17" fill="#26a69a"/><rect x="733" y="146" width="3" height="1" fill="#26a69a"/><rect x="738" y="143" width="1" height="45" fill="#ef5350"/><rect x="737" y="146" width="3" height="17" fill="#ef5350"/><rect x="741" y="158" width="1" height="28" fill="#ef5350"/><rect x="740" y="163" width="3" height="19" fill="#ef5350"/><rect x="745" y="171" width="1" height="37" fill="#ef5350"/><rect x="744" y="182" width="3" height="21" fill="#ef5350"/><rect x="748" y="193" width="1" height="46" fill="#ef5350"/><rect x="747" y="203" width="3" height="14" fill="#ef5350"/><rect x="752" y="207" width="1" height="10" fill="#26a69a"/><rect x="751" y="210" width="3" height="7" fill="#26a69a"/><rect x="755" y="191" width="1" height="27" fill="#26a69a"/><rect x="754" y="198" width="3" height="12" fill="#26a69a"/><rect x="759" y="173" width="1" height="34" fill="#26a69a"/><rect x="758" y="183" width="3" height="15" fill="#26a69a"/><rect x="762" y="154" width="1" height="53" fill="#ef5350"/><rect x="761" y="183" width="3" height="18" fill="#ef5350"/><rect x="766" y="194" width="1" height="20" fill="#ef5350"/><rect x="765" y="201" width="3" height="7" fill="#ef5350"/><rect x="769" y="177" width="1" height="31" fill="#26a69a"/><rect x="768" y="186" width="3" height="22" fill="#26a69a"/><rect x="773" y="170" width="1" height="19" fill="#26a69a"/><rect x="772" y="179" width="3" height="7" fill="#26a69a"/><rect x="776" y="171" width="1" height="11" fill="#26a69a"/><rect x="775" y="174" width="3" height="5" fill="#26a69a"/><rect x="780" y="143" width="1" height="34" fill="#26a69a"/><rect x="779" y="151" width="3" height="23" fill="#26a69a"/><rect x="784" y="136" width="1" height="20" fill="#ef5350"/><rect x="783" y="151" width="3" height="4" fill="#ef5350"/><rect x="787" y="138" width="1" height="31" fill="#ef5350"/><rect x="786" y="155" width="3" height="9" fill="#ef5350"/><rect x="791" y="158" width="1" height="35" fill="#ef5350"/><rect x="790" y="164" width="3" height="24" fill="#ef5350"/><rect x="794" y="174" width="1" height="43" fill="#ef5350"/><rect x="793" y="188" width="3" height="14" fill="#ef5350"/><rect x="798" y="177" width="1" height="25" fill="#26a69a"/><rect x="797" y="190" width="3" height="12" fill="#26a69a"/><rect x="801" y="182" width="1" height="10" fill="#26a69a"/><rect x="800" y="186" width="3" height="4" fill="#26a69a"/><rect x="805" y="176" width="1" height="15" fill="#26a69a"/><rect x="804" y="183" width="3" height="3" fill="#26a69a"/><rect x="808" y="181" width="1" height="44" fill="#ef5350"/><rect x="807" y="183" width="3" height="33" fill="#ef5350"/><rect x="812" y="209" width="1" height="67" fill="#ef5350"/><rect x="811" y="216" width="3" height="40" fill="#ef5350"/><rect x="815" y="231" width="1" height="45" fill="#26a69a"/><rect x="814" y="236" width="3" height="20" fill="#26a69a"/><rect x="819" y="234" width="1" height="31" fill="#ef5350"/><rect x="818" y="236" width="3" height="22" fill="#ef5350"/><rect x="822" y="235" width="1" height="38" fill="#26a69a"/><rect x="821" y="241" width="3" height="17" fill="#26a69a"/><rect x="826" y="240" width="1" height="16" fill="#ef5350"/><rect x="825" y="241" width="3" height="9" fill="#ef5350"/><rect x="829" y="223" width="1" height="33" fill="#26a69a"/><rect x="828" y="229" width="3" height="21" fill="#26a69a"/><rect x="833" y="214" width="1" height="19" fill="#26a69a"/><rect x="832" y="219" width="3" height="10" fill="#26a69a"/><rect x="836" y="207" width="1" height="41" fill="#ef5350"/><rect x="835" y="219" width="3" height="25" fill="#ef5350"/><rect x="840" y="225" width="1" height="36" fill="#ef5350"/><rect x="839" y="244" width="3" height="10" fill="#ef5350"/><rect x="843" y="235" width="1" height="49" fill="#ef5350"/><rect x="842" y="254" width="3" height="17" fill="#ef5350"/><rect x="847" y="269" width="1" height="47" fill="#ef5350"/><rect x="846" y="271" width="3" height="41" fill="#ef5350"/><rect x="850" y="293" width="1" height="19" fill="#26a69a"/><rect x="849" y="303" width="3" height="9" fill="#26a69a"/><rect x="854" y="295" width="1" height="29" fill="#ef5350"/><rect x="853" y="303" width="3" height="12" fill="#ef5350"/><rect x="857" y="299" width="1" height="39" fill="#ef5350"/><rect x="856" y="315" width="3" height="16" fill="#ef5350"/><rect x="861" y="317" width="1" height="37" fill="#26a69a"/><rect x="860" y="324" width="3" height="7" fill="#26a69a"/><rect x="865" y="324" width="1" height="35" fill="#ef5350"/><rect x="864" y="324" width="3" height="12" fill="#ef5350"/><rect x="868" y="323" width="1" height="56" fill="#ef5350"/><rect x="867" y="336" width="3" height="40" fill="#ef5350"/><rect x="872" y="368" width="1" height="56" fill="#ef5350"/><rect x="871" y="376" width="3" height="12" fill="#ef5350"/><rect x="875" y="383" width="1" height="17" fill="#ef5350"/><rect x="874" y="388" width="3" height="3" fill="#ef5350"/><rect x="879" y="363" width="1" height="28" fill="#26a69a"/><rect x="878" y="373" width="3" height="18" fill="#26a69a"/><rect x="882" y="354" width="1" height="32" fill="#26a69a"/><rect x="881" y="362" width="3" height="11" fill="#26a69a"/><rect x="886" y="360" width="1" height="19" fill="#ef5350"/><rect x="885" y="362" width="3" height="8" fill="#ef5350"/><rect x="889" y="343" width="1" height="35" fill="#26a69a"/><rect x="888" y="344" width="3" height="26" fill="#26a69a"/><rect x="893" y="332" width="1" height="14" fill="#26a69a"/><rect x="892" y="337" width="3" height="7" fill="#26a69a"/><rect x="896" y="323" width="1" height="23" fill="#ef5350"/><rect x="895" y="337" width="3" height="5" fill="#ef5350"/><rect x="900" y="339" width="1" height="8" fill="#ef5350"/><rect x="899" y="342" width="3" height="1" fill="#ef5350"/><rect x="903" y="332" width="1" height="14" fill="#ef5350"/><rect x="902" y="342" width="3" height="4" fill="#ef5350"/><rect x="907" y="345" width="1" height="53" fill="#ef5350"/><rect x="906" y="346" width="3" height="32" fill="#ef5350"/><rect x="910" y="329" width="1" height="49" fill="#26a69a"/><rect x="909" y="338" width="3" height="40" fill="#26a69a"/><rect x="914" y="315" width="1" height="25" fill="#26a69a"/><rect x="913" y="320" width="3" height="18" fill="#26a69a"/><rect x="917" y="315" width="1" height="26" fill="#ef5350"/><rect x="916" y="320" width="3" height="12" fill="#ef5350"/><rect x="921" y="326" width="1" height="38" fill="#ef5350"/><rect x="920" y="332" width="3" height="22" fill="#ef5350"/><rect x="924" y="346" width="1" height="11" fill="#ef5350"/><rect x="923" y="354" width="3" height="1" fill="#ef5350"/><rect x="928" y="334" width="1" height="32" fill="#26a69a"/><rect x="927" y="345" width="3" height="9" fill="#26a69a"/><rect x="931" y="330" width="1" height="21" fill="#26a69a"/><rect x="930" y="343" width="3" height="2" fill="#26a69a"/><rect x="935" y="311" width="1" height="41" fill="#26a69a"/><rect x="934" y="326" width="3" height="17" fill="#26a69a"/><rect x="938" y="312" width="1" height="23" fill="#ef5350"/><rect x="937" y="326" width="3" height="7" fill="#ef5350"/><rect x="942" y="319" width="1" height="35" fill="#26a69a"/><rect x="941" y="328" width="3" height="5" fill="#26a69a"/><rect x="945" y="326" width="1" height="26" fill="#ef5350"/><rect x="944" y="328" width="3" height="19" fill="#ef5350"/><rect x="949" y="343" width="1" height="7" fill="#ef5350"/><rect x="948" y="347" width="3" height="1" fill="#ef5350"/><rect x="953" y="344" width="1" height="23" fill="#ef5350"/><rect x="952" y="347" width="3" height="17" fill="#ef5350"/><rect x="956" y="348" width="1" height="39" fill="#ef5350"/><rect x="955" y="364" width="3" height="14" fill="#ef5350"/><rect x="960" y="363" width="1" height="23" fill="#26a69a"/><rect x="959" y="365" width="3" height="13" fill="#26a69a"/><rect x="963" y="345" width="1" height="41" fill="#ef5350"/><rect x="962" y="365" width="3" height="14" fill="#ef5350"/><rect x="967" y="352" width="1" height="41" fill="#ef5350"/><rect x="966" y="379" width="3" height="6" fill="#ef5350"/><rect x="970" y="353" width="1" height="34" fill="#26a69a"/><rect x="969" y="363" width="3" height="22" fill="#26a69a"/><rect x="974" y="359" width="1" height="7" fill="#26a69a"/><rect x="973" y="361" width="3" height="2" fill="#26a69a"/><rect x="977" y="355" width="1" height="12" fill="#26a69a"/><rect x="976" y="359" width="3" height="2" fill="#26a69a"/><rect x="981" y="343" width="1" height="22" fill="#ef5350"/><rect x="980" y="359" width="3" height="1" fill="#ef5350"/><rect x="984" y="356" width="1" height="19" fill="#ef5350"/><rect x="983" y="360" width="3" height="9" fill="#ef5350"/><rect x="988" y="364" width="1" height="13" fill="#26a69a"/><rect x="987" y="368" width="3" height="1" fill="#26a69a"/><rect x="991" y="359" width="1" height="14" fill="#ef5350"/><rect x="990" y="368" width="3" height="3" fill="#ef5350"/><rect x="995" y="351" width="1" height="24" fill="#26a69a"/><rect x="994" y="370" width="3" height="1" fill="#26a69a"/><rect x="998" y="364" width="1" height="6" fill="#26a69a"/><rect x="997" y="365" width="3" height="5" fill="#26a69a"/><rect x="1002" y="363" width="1" height="6" fill="#26a69a"/><rect x="1001" y="365" width="3" height="1" fill="#26a69a"/><rect x="1005" y="345" width="1" height="29" fill="#ef5350"/><rect x="1004" y="365" width="3" height="6" fill="#ef5350"/><rect x="1009" y="353" width="1" height="20" fill="#26a69a"/><rect x="1008" y="360" width="3" height="11" fill="#26a69a"/><rect x="1012" y="354" width="1" height="15" fill="#ef5350"/><rect x="1011" y="360" width="3" height="8" fill="#ef5350"/><rect x="1016" y="357" width="1" height="11" fill="#26a69a"/><rect x="1015" y="357" width="3" height="11" fill="#26a69a"/><rect x="1019" y="340" width="1" height="21" fill="#26a69a"/><rect x="1018" y="348" width="3" height="9" fill="#26a69a"/><rect x="1023" y="342" width="1" height="11" fill="#26a69a"/><rect x="1022" y="343" width="3" height="5" fill="#26a69a"/><rect x="1026" y="333" width="1" height="11" fill="#26a69a"/><rect x="1025" y="336" width="3" height="7" fill="#26a69a"/><rect x="1030" y="309" width="1" height="28" fill="#26a69a"/><rect x="1029" y="317" width="3" height="19" fill="#26a69a"/><rect x="1033" y="312" width="1" height="26" fill="#ef5350"/><rect x="1032" y="317" width="3" height="1" fill="#ef5350"/><rect x="1037" y="317" width="1" height="26" fill="#ef5350"/><rect x="1036" y="317" width="3" height="21" fill="#ef5350"/><rect x="1041" y="334" width="1" height="19" fill="#ef5350"/><rect x="1040" y="338" width="3" height="1" fill="#ef5350"/><rect x="1044" y="331" width="1" height="19" fill="#ef5350"/><rect x="1043" y="339" width="3" height="5" fill="#ef5350"/><rect x="1048" y="341" width="1" height="4" fill="#ef5350"/><rect x="1047" y="344" width="3" height="1" fill="#ef5350"/><rect x="1051" y="338" width="1" height="8" fill="#26a69a"/><rect x="1050" y="340" width="3" height="4" fill="#26a69a"/><rect x="1055" y="328" width="1" height="19" fill="#26a69a"/><rect x="1054" y="338" width="3" height="2" fill="#26a69a"/><rect x="1058" y="296" width="1" height="43" fill="#26a69a"/><rect x="1057" y="304" width="3" height="34" fill="#26a69a"/><rect x="1062" y="284" width="1" height="27" fill="#26a69a"/><rect x="1061" y="292" width="3" height="12" fill="#26a69a"/><rect x="1065" y="290" width="1" height="17" fill="#ef5350"/><rect x="1064" y="292" width="3" height="12" fill="#ef5350"/><rect x="1069" y="301" width="1" height="12" fill="#ef5350"/><rect x="1068" y="304" width="3" height="1" fill="#ef5350"/><rect x="1072" y="303" width="1" height="5" fill="#ef5350"/><rect x="1071" y="304" width="3" height="3" fill="#ef5350"/><rect x="1076" y="303" width="1" height="16" fill="#ef5350"/><rect x="1075" y="307" width="3" height="11" fill="#ef5350"/><rect x="1079" y="318" width="1" height="15" fill="#ef5350"/><rect x="1078" y="318" width="3" height="10" fill="#ef5350"/><rect x="1083" y="325" width="1" height="40" fill="#ef5350"/><rect x="1082" y="328" width="3" height="34" fill="#ef5350"/><rect x="1086" y="343" width="1" height="27" fill="#26a69a"/><rect x="1085" y="352" width="3" height="10" fill="#26a69a"/><rect x="1090" y="345" width="1" height="15" fill="#26a69a"/><rect x="1089" y="351" width="3" height="1" fill="#26a69a"/><rect x="1093" y="338" width="1" height="21" fill="#26a69a"/><rect x="1092" y="351" width="3" height="1" fill="#26a69a"/><rect x="1097" y="348" width="1" height="7" fill="#ef5350"/><rect x="1096" y="351" width="3" height="4" fill="#ef5350"/><rect x="1100" y="354" width="1" height="26" fill="#ef5350"/><rect x="1099" y="355" width="3" height="21" fill="#ef5350"/><rect x="1104" y="357" width="1" height="19" fill="#26a69a"/><rect x="1103" y="361" width="3" height="15" fill="#26a69a"/><rect x="1107" y="352" width="1" height="18" fill="#26a69a"/><rect x="1106" y="354" width="3" height="7" fill="#26a69a"/><rect x="1111" y="343" width="1" height="14" fill="#26a69a"/><rect x="1110" y="354" width="3" height="1" fill="#26a69a"/><rect x="1114" y="354" width="1" height="47" fill="#ef5350"/><rect x="1113" y="354" width="3" height="38" fill="#ef5350"/><rect x="1118" y="390" width="1" height="29" fill="#ef5350"/><rect x="1117" y="392" width="3" height="3" fill="#ef5350"/><rect x="1122" y="394" width="1" height="69" fill="#ef5350"/><rect x="1121" y="395" width="3" height="45" fill="#ef5350"/><rect x="1125" y="433" width="1" height="30" fill="#ef5350"/><rect x="1124" y="440" width="3" height="13" fill="#ef5350"/><rect x="1129" y="434" width="1" height="38" fill="#26a69a"/><rect x="1128" y="439" width="3" height="14" fill="#26a69a"/><rect x="1132" y="435" width="1" height="50" fill="#ef5350"/><rect x="1131" y="439" width="3" height="24" fill="#ef5350"/><rect x="1136" y="453" width="1" height="41" fill="#ef5350"/><rect x="1135" y="463" width="3" height="20" fill="#ef5350"/><rect x="1139" y="482" width="1" height="88" fill="#ef5350"/><rect x="1138" y="483" width="3" height="84" fill="#ef5350"/><rect x="1143" y="495" width="1" height="94" fill="#26a69a"/><rect x="1142" y="504" width="3" height="63" fill="#26a69a"/><rect x="1146" y="495" width="1" height="36" fill="#ef5350"/><rect x="1145" y="504" width="3" height="12" fill="#ef5350"/><rect x="1150" y="491" width="1" height="27" fill="#26a69a"/><rect x="1149" y="506" width="3" height="10" fill="#26a69a"/><rect x="1153" y="497" width="1" height="25" fill="#ef5350"/><rect x="1152" y="506" width="3" height="3" fill="#ef5350"/><rect x="1157" y="505" width="1" height="22" fill="#ef5350"/><rect x="1156" y="509" width="3" height="10" fill="#ef5350"/><rect x="1160" y="515" width="1" height="28" fill="#ef5350"/><rect x="1159" y="519" width="3" height="14" fill="#ef5350"/><rect x="1164" y="522" width="1" height="26" fill="#ef5350"/><rect x="1163" y="533" width="3" height="7" fill="#ef5350"/><rect x="1167" y="513" width="1" height="29" fill="#26a69a"/><rect x="1166" y="518" width="3" height="22" fill="#26a69a"/><rect x="1171" y="504" width="1" height="15" fill="#26a69a"/><rect x="1170" y="510" width="3" height="8" fill="#26a69a"/><rect x="1174" y="501" width="1" height="24" fill="#ef5350"/><rect x="1173" y="510" width="3" height="9" fill="#ef5350"/><rect x="1178" y="508" width="1" height="23" fill="#26a69a"/><rect x="1177" y="518" width="3" height="1" fill="#26a69a"/><rect x="1181" y="515" width="1" height="21" fill="#ef5350"/><rect x="1180" y="518" width="3" height="12" fill="#ef5350"/><rect x="1185" y="521" width="1" height="21" fill="#ef5350"/><rect x="1184" y="530" width="3" height="8" fill="#ef5350"/><rect x="1188" y="530" width="1" height="14" fill="#26a69a"/><rect x="1187" y="533" width="3" height="5" fill="#26a69a"/><rect x="1192" y="522" width="1" height="17" fill="#26a69a"/><rect x="1191" y="525" width="3" height="8" fill="#26a69a"/><rect x="1195" y="519" width="1" height="10" fill="#ef5350"/><rect x="1194" y="525" width="3" height="1" fill="#ef5350"/><rect x="1199" y="523" width="1" height="8" fill="#ef5350"/><rect x="1198" y="526" width="3" height="3" fill="#ef5350"/><rect x="1202" y="528" width="1" height="27" fill="#ef5350"/><rect x="1201" y="529" width="3" height="16" fill="#ef5350"/>
</g>
<!-- RSI -->
<line x1="10" y1="654.5" x2="1270" y2="654.5" stroke="#787b86" stroke-width="1" stroke-dasharray="5,6"/><line x1="10" y1="711.5" x2="1270" y2="711.5" stroke="#a9abb3" stroke-width="1" stroke-dasharray="5,6"/><line x1="10" y1="769.5" x2="1270" y2="769.5" stroke="#787b86" stroke-width="1" stroke-dasharray="5,6"/>
<path d="M156.3,654.5L157.6,654.2L157.7,654.5Z M176.6,654.5L178.7,637.5L182.3,640.0L185.8,634.2L189.3,641.7L192.7,654.5Z M193.2,654.5L196.3,650.0L199.0,654.5Z M212.0,654.5L213.9,645.0L217.2,654.5Z M217.8,654.5L221.0,647.5L224.5,637.5L228.0,630.8L230.0,654.5Z M399.9,654.5L400.5,650.9L404.0,645.3L407.5,646.3L411.1,639.7L414.6,637.0L417.3,654.5Z M423.5,654.5L425.1,653.4L425.4,654.5Z M704.2,654.5L706.7,650.8L710.3,646.3L711.2,654.5Z M1062.0,654.5L1062.3,653.7L1062.4,654.5Z" fill="url(#ghi)"/>
<path d="M856.7,769.5L858.1,771.8L859.7,769.5Z M863.9,769.5L865.1,770.9L868.7,784.3L872.2,787.1L875.7,788.8L879.2,771.8L880.0,769.5Z M1120.2,769.5L1122.1,782.6L1125.6,788.4L1129.1,770.4L1132.7,780.1L1136.2,788.4L1139.7,809.3L1142.6,769.5Z M1162.4,769.5L1164.3,770.4L1164.5,769.5Z" fill="url(#glo)"/>
<g clip-path="url(#cp)"><path d="M10.5,734.2C10.9,734.1 11.8,734.4 13.0,733.4C14.3,732.4 16.3,729.9 18.0,728.4C19.7,726.9 21.3,725.4 23.0,724.2C24.7,723.1 26.6,722.5 28.0,721.7C29.4,721.0 29.7,720.0 31.4,719.6C33.0,719.2 35.2,719.4 38.0,719.4C40.8,719.4 44.7,719.6 48.0,719.7C51.4,719.8 55.8,720.0 58.0,720.1C60.3,720.1 60.0,719.5 61.4,720.1C62.8,720.6 64.4,722.0 66.4,723.4C68.3,724.9 70.8,727.6 73.0,728.7C75.3,729.9 78.1,730.2 79.7,730.4C81.4,730.6 81.7,730.3 83.1,729.7C84.4,729.2 86.1,728.0 88.1,727.1C90.0,726.2 92.5,725.1 94.7,724.2C97.0,723.4 99.2,722.8 101.4,722.1C103.6,721.3 105.8,720.9 108.1,719.7C110.3,718.6 112.5,717.5 114.7,715.1C117.0,712.6 118.6,709.0 121.4,705.1C124.2,701.2 128.1,695.6 131.4,691.7C134.8,687.8 138.4,684.5 141.4,681.7C144.5,678.9 147.0,677.6 149.8,675.0C152.6,672.5 155.9,668.2 158.1,666.4C160.3,664.6 161.4,664.6 163.1,664.2C164.8,663.8 166.2,663.6 168.1,663.7C170.1,663.8 172.6,665.0 174.8,664.7C177.0,664.4 179.2,662.7 181.5,661.7C183.7,660.6 185.6,659.2 188.1,658.4C190.6,657.5 194.0,656.8 196.5,656.4C199.0,655.9 200.9,656.1 203.1,655.9C205.4,655.6 207.6,655.7 209.8,655.0C212.0,654.3 214.3,652.7 216.5,651.7C218.7,650.6 221.5,649.3 223.2,648.7C224.8,648.1 225.1,647.6 226.5,648.0C227.9,648.5 230.1,650.4 231.5,651.4C232.9,652.3 233.0,653.0 235.0,653.8C237.0,654.5 240.8,654.8 243.3,655.9C245.8,656.9 247.8,658.2 250.0,660.0C252.2,661.8 254.5,664.6 256.7,666.7C258.9,668.8 261.1,670.6 263.4,672.5C265.6,674.5 267.8,675.3 270.0,678.4C272.3,681.4 274.5,688.0 276.7,690.9C278.9,693.8 281.1,694.6 283.4,695.9C285.6,697.2 287.5,698.1 290.0,698.7C292.5,699.4 295.6,699.4 298.4,699.7C301.2,700.0 303.9,700.1 306.7,700.4C309.5,700.7 312.6,701.3 315.1,701.7C317.6,702.2 319.8,703.0 321.7,703.1C323.7,703.1 324.8,701.6 326.7,702.1C328.7,702.5 331.2,704.3 333.4,705.9C335.6,707.5 338.1,710.3 340.1,711.7C342.0,713.1 343.4,713.8 345.1,714.2C346.8,714.6 348.1,714.5 350.1,714.2C352.0,714.0 354.5,713.3 356.8,712.6C359.0,711.8 361.5,710.3 363.4,709.7C365.4,709.2 366.5,710.0 368.4,709.2C370.4,708.5 372.9,706.7 375.1,705.1C377.3,703.4 379.8,700.9 381.8,699.2C383.7,697.6 384.8,695.9 386.8,695.1C388.7,694.2 391.5,694.9 393.5,694.2C395.4,693.5 396.5,692.5 398.5,690.9C400.4,689.2 402.9,686.6 405.1,684.2C407.4,681.8 409.6,679.1 411.8,676.7C414.0,674.3 416.0,672.0 418.5,670.0C421.0,668.1 424.3,666.3 426.8,665.0C429.3,663.8 431.3,663.5 433.5,662.5C435.7,661.6 438.2,660.1 440.2,659.2C442.1,658.3 443.5,656.9 445.2,657.0C446.8,657.2 448.2,658.7 450.2,660.0C452.1,661.4 455.6,664.1 457.0,665.0C458.4,666.0 457.3,664.9 458.7,665.9C460.1,666.8 463.1,669.1 465.3,670.9C467.6,672.7 469.8,674.3 472.0,676.7C474.2,679.1 476.5,682.4 478.7,685.0C480.9,687.7 483.1,690.2 485.4,692.5C487.6,694.9 489.8,697.4 492.0,699.2C494.3,701.1 496.5,702.5 498.7,703.7C500.9,704.9 503.1,705.9 505.4,706.4C507.6,706.9 509.8,707.0 512.0,706.7C514.3,706.4 516.5,705.6 518.7,704.7C520.9,703.9 523.2,702.7 525.4,701.7C527.6,700.7 529.8,699.2 532.1,698.7C534.3,698.2 536.5,698.4 538.7,698.7C541.0,699.1 543.5,700.0 545.4,700.9C547.3,701.8 548.7,703.5 550.4,704.2C552.1,705.0 553.5,704.1 555.4,705.4C557.4,706.6 559.9,709.1 562.1,711.7C564.3,714.3 566.5,718.4 568.8,720.9C571.0,723.4 573.2,724.9 575.4,726.7C577.6,728.5 580.1,730.6 582.1,731.7C584.0,732.9 585.4,733.4 587.1,733.4C588.8,733.5 590.4,732.4 592.1,732.1C593.8,731.7 595.4,731.2 597.1,731.4C598.8,731.6 600.4,732.8 602.1,733.1C603.8,733.4 605.4,733.5 607.1,733.1C608.8,732.6 610.4,731.2 612.1,730.4C613.8,729.6 615.5,729.4 617.1,728.4C618.8,727.5 620.2,726.5 622.1,724.7C624.1,722.9 626.6,720.0 628.8,717.6C631.0,715.1 633.0,712.6 635.5,710.1C638.0,707.6 641.0,705.1 643.8,702.6C646.6,700.1 649.9,696.5 652.1,695.1C654.4,693.6 655.2,693.6 657.2,693.7C659.1,693.9 661.9,695.0 663.8,695.9C665.8,696.8 667.2,697.7 668.8,699.2C670.5,700.8 672.1,703.2 673.8,705.1C675.5,706.9 677.9,709.2 679.0,710.4C680.1,711.6 679.0,711.4 680.7,712.1C682.3,712.7 686.5,714.1 689.0,714.2C691.5,714.3 693.2,713.9 695.7,712.6C698.2,711.2 701.2,708.9 704.0,705.9C706.8,702.8 709.6,697.7 712.4,694.2C715.1,690.7 717.6,686.6 720.7,685.0C723.8,683.4 727.8,684.0 730.7,684.5C733.6,685.0 736.0,686.0 738.2,688.0C740.4,690.1 742.0,693.3 744.1,696.7C746.1,700.1 748.5,704.5 750.7,708.4C752.9,712.3 755.2,716.4 757.4,720.1C759.6,723.7 762.1,727.4 764.1,730.1C766.0,732.7 767.1,735.4 769.1,735.9C771.0,736.5 773.2,734.4 775.7,733.4C778.2,732.4 781.3,731.0 784.1,730.1C786.9,729.1 789.9,728.5 792.4,727.6C794.9,726.6 796.9,725.1 799.1,724.2C801.3,723.3 803.5,722.0 805.8,722.1C808.0,722.1 810.2,723.8 812.4,724.7C814.7,725.6 816.9,726.5 819.1,727.6C821.3,728.7 823.6,730.3 825.8,731.4C828.0,732.5 829.9,733.1 832.4,734.2C835.0,735.4 838.0,736.4 840.8,738.1C843.6,739.7 846.3,742.2 849.1,744.2C851.9,746.2 855.7,749.1 857.5,750.1C859.3,751.1 858.5,749.7 860.0,750.4C861.5,751.1 864.4,752.5 866.7,754.3C868.9,756.0 871.1,759.0 873.3,760.9C875.6,762.9 877.8,764.7 880.0,765.9C882.2,767.2 884.5,768.2 886.7,768.4C888.9,768.6 891.1,767.9 893.4,767.1C895.6,766.3 897.8,764.5 900.0,763.4C902.3,762.3 904.8,761.8 906.7,760.4C908.6,759.0 910.0,756.9 911.7,755.1C913.4,753.2 914.5,751.6 916.7,749.2C918.9,746.9 922.3,743.5 925.0,740.9C927.8,738.3 930.9,735.3 933.4,733.4C935.9,731.5 937.8,730.3 940.1,729.2C942.3,728.2 944.5,727.5 946.7,727.1C949.0,726.6 951.7,726.6 953.4,726.4C955.1,726.2 955.3,725.7 956.7,725.9C958.1,726.1 960.1,726.8 961.7,727.6C963.4,728.3 964.8,730.0 966.7,730.4C968.7,730.8 971.2,729.9 973.4,729.7C975.6,729.6 977.9,729.3 980.1,729.6C982.3,729.8 984.5,730.8 986.8,731.4C989.0,732.0 991.2,733.1 993.4,733.4C995.7,733.7 997.9,733.7 1000.1,733.4C1002.3,733.1 1004.6,732.4 1006.8,731.4C1009.0,730.4 1010.9,729.0 1013.4,727.6C1015.9,726.1 1019.3,724.5 1021.8,722.6C1024.3,720.6 1026.2,718.1 1028.5,715.9C1030.7,713.7 1032.6,711.2 1035.1,709.2C1037.6,707.3 1040.7,705.9 1043.5,704.2C1046.2,702.5 1049.3,701.3 1051.8,699.2C1054.3,697.1 1056.3,693.9 1058.5,691.7C1060.7,689.5 1062.9,687.3 1065.2,685.9C1067.4,684.5 1069.9,683.5 1071.8,683.4C1073.8,683.2 1075.2,683.8 1076.8,685.0C1078.5,686.3 1080.1,689.3 1081.8,690.9C1083.5,692.5 1085.6,693.7 1087.0,694.7C1088.4,695.7 1088.4,695.7 1090.0,696.7C1091.6,697.6 1094.5,698.8 1096.7,700.4C1098.9,701.9 1101.1,703.6 1103.4,705.9C1105.6,708.2 1107.8,711.0 1110.0,714.2C1112.3,717.4 1114.2,720.5 1116.7,725.0C1119.2,729.6 1122.6,737.6 1125.1,741.7C1127.6,745.9 1129.5,747.1 1131.7,750.1C1134.0,753.0 1136.2,757.0 1138.4,759.2C1140.6,761.5 1142.8,762.2 1145.1,763.4C1147.3,764.7 1149.5,765.4 1151.7,766.7C1154.0,768.1 1156.2,770.4 1158.4,771.4C1160.6,772.5 1163.1,773.2 1165.1,773.1C1167.0,772.9 1168.4,771.5 1170.1,770.4C1171.8,769.3 1173.1,767.6 1175.1,766.4C1177.0,765.2 1179.5,764.7 1181.8,763.4C1184.0,762.1 1186.2,759.7 1188.4,758.4C1190.7,757.2 1193.0,756.5 1195.1,755.9C1197.2,755.3 1200.0,755.2 1200.9,755.1" fill="none" stroke="#fdd835" stroke-width="1.2" stroke-linejoin="round"/>
<path d="M9.8,724.2L13.3,724.7L16.8,711.7L20.3,705.1L23.9,705.9L27.4,707.6L30.9,706.4L34.4,721.7L37.9,732.6L41.5,734.2L45.0,733.1L48.5,714.2L52.0,729.7L55.5,725.9L59.1,720.9L62.6,721.7L66.1,750.1L69.6,744.8L73.1,757.6L76.7,715.9L80.2,730.1L83.7,710.1L87.2,701.7L90.7,709.2L94.3,705.4L97.8,710.4L101.3,708.7L104.8,703.4L108.3,705.9L111.9,702.6L115.4,701.7L118.9,690.9L122.4,660.9L125.9,660.0L129.5,659.2L133.0,655.9L136.5,655.9L140.0,664.7L143.5,659.2L147.1,666.7L150.6,667.5L154.1,655.0L157.6,654.2L161.1,666.7L164.7,681.7L168.2,678.4L171.7,665.9L175.2,665.0L178.7,637.5L182.3,640.0L185.8,634.2L189.3,641.7L192.8,655.0L196.3,650.0L199.9,655.9L203.4,655.9L206.9,659.2L210.4,662.0L213.9,645.0L217.5,655.4L221.0,647.5L224.5,637.5L228.0,630.8L231.5,673.4L235.1,669.7L238.6,665.0L242.1,663.4L245.6,668.0L249.1,680.9L252.7,696.7L256.2,710.9L259.7,705.1L263.2,698.4L266.7,696.7L270.3,700.9L273.8,707.6L277.3,733.4L280.8,709.2L284.3,701.4L287.9,700.1L291.4,672.5L294.9,672.5L298.4,685.9L301.9,710.1L305.5,706.7L309.0,711.7L312.5,710.4L316.0,700.9L319.5,718.4L323.1,715.9L326.6,717.6L330.1,729.2L333.6,736.7L337.1,745.1L340.7,707.6L344.2,700.9L347.7,693.0L351.2,695.9L354.7,695.9L358.3,693.4L361.8,685.4L365.3,695.9L368.8,712.6L372.3,688.0L375.9,682.5L379.4,697.6L382.9,695.9L386.4,688.0L389.9,698.1L393.5,693.0L397.0,671.7L400.5,650.9L404.0,645.3L407.5,646.3L411.1,639.7L414.6,637.0L418.1,660.0L421.6,655.9L425.1,653.4L428.7,666.7L432.2,667.5L435.7,674.2L439.2,673.4L442.7,656.4L446.3,669.2L449.8,675.9L453.3,684.2L456.8,681.7L460.3,670.9L463.9,686.7L467.4,688.0L470.9,689.7L474.4,710.9L477.9,734.2L481.5,740.1L485.0,721.7L488.5,715.1L492.0,722.6L495.5,714.2L499.1,692.5L502.6,699.2L506.1,702.6L509.6,680.9L513.1,686.7L516.7,675.9L520.2,658.4L523.7,702.6L527.2,708.1L530.7,708.1L534.3,708.1L537.8,719.2L541.3,739.3L544.8,728.4L548.3,738.4L551.9,706.7L555.4,715.9L558.9,729.2L562.4,744.3L565.9,732.6L569.5,735.1L573.0,725.9L576.5,746.4L580.0,743.8L583.5,745.9L587.1,735.9L590.6,723.4L594.1,720.4L597.6,725.9L601.1,726.7L604.7,730.1L608.2,722.6L611.7,714.2L615.2,717.6L618.7,698.4L622.3,689.2L625.8,684.7L629.3,685.4L632.8,692.5L636.3,691.7L639.9,680.0L643.4,683.4L646.9,679.2L650.4,695.1L653.9,697.1L657.5,701.7L661.0,727.6L664.5,733.4L668.0,719.2L671.5,751.4L675.1,744.2L678.6,744.2L682.1,716.7L685.6,701.7L689.1,703.4L692.7,673.7L696.2,665.0L699.7,656.7L703.2,655.8L706.7,650.8L710.3,646.3L713.8,678.4L717.3,668.4L720.8,683.4L724.3,735.1L727.9,743.4L731.4,719.2L734.9,718.1L738.4,727.6L741.9,738.4L745.5,748.4L749.0,754.3L752.5,749.3L756.0,738.4L759.5,728.1L763.1,738.1L766.6,741.4L770.1,725.1L773.6,720.1L777.1,716.4L780.7,699.2L784.2,701.7L787.7,709.2L791.2,723.4L794.7,735.1L798.3,727.6L801.8,722.6L805.3,720.1L808.8,743.4L812.3,762.6L815.9,745.1L819.4,755.1L822.9,741.7L826.4,746.4L829.9,730.1L833.5,723.1L837.0,737.1L840.5,741.7L844.0,751.8L847.5,768.4L851.1,761.8L854.6,765.9L858.1,771.8L861.6,766.8L865.1,770.9L868.7,784.3L872.2,787.1L875.7,788.8L879.2,771.8L882.7,761.8L886.3,764.3L889.8,741.7L893.3,736.7L896.8,739.2L900.3,739.2L903.9,741.7L907.4,760.9L910.9,725.1L914.4,713.4L917.9,721.7L921.5,733.7L925.0,734.2L928.5,726.7L932.0,724.7L935.5,711.7L939.1,715.1L942.6,712.6L946.1,726.4L949.6,726.4L953.1,737.6L956.7,748.4L960.2,736.4L963.7,745.9L967.2,749.2L970.7,727.6L974.3,725.9L977.8,723.1L981.3,723.4L984.8,731.4L988.3,730.4L991.9,733.1L995.4,732.1L998.9,726.4L1002.4,725.4L1005.9,732.6L1009.5,717.1L1013.0,725.9L1016.5,713.4L1020.0,699.7L1023.5,693.7L1027.1,684.2L1030.6,666.7L1034.1,668.4L1037.6,697.5L1041.1,700.4L1044.7,705.9L1048.2,706.7L1051.7,700.9L1055.2,697.5L1058.7,663.4L1062.3,653.7L1065.8,670.9L1069.3,671.7L1072.8,677.5L1076.3,691.7L1079.9,706.7L1083.4,740.9L1086.9,730.9L1090.4,729.7L1093.9,729.2L1097.5,732.5L1101.0,751.7L1104.5,735.1L1108.0,724.2L1111.5,723.4L1115.1,755.9L1118.6,758.4L1122.1,782.6L1125.6,788.4L1129.1,770.4L1132.7,780.1L1136.2,788.4L1139.7,809.3L1143.2,760.9L1146.7,764.2L1150.3,758.4L1153.8,759.7L1157.3,763.4L1160.8,768.7L1164.3,770.4L1167.9,751.7L1171.4,747.1L1174.9,750.9L1178.4,750.4L1181.9,755.9L1185.5,760.4L1189.0,754.2L1192.5,747.6L1196.0,747.1L1199.5,750.9L1203.1,760.4" fill="none" stroke="#7e57c2" stroke-width="3.3" stroke-linejoin="round" stroke-linecap="round"/></g>
<!-- frame -->
<g shape-rendering="crispEdges" fill="#e0e2e6">
<rect x="10" y="620" width="1341" height="1"/>
<rect x="10" y="820" width="1341" height="1"/>
<rect x="1273" y="27" width="1" height="821"/>
</g>
<rect x="10" y="27.3" width="1340.8" height="820.7" fill="none" stroke="#f0f1f3" stroke-width="2"/>
<!-- lightning icon -->
<g transform="translate(1202.5,607.4)">
<path d="M3.21,-9.31 A9.85,9.85 0 1 0 9.39,-2.96" fill="none" stroke="#9c27b0" stroke-width="1.5" stroke-linecap="round"/>
<path d="M2.3,-5.2 L-4.3,0.1 L-0.66,0.26 L-3.3,5.4 L4.1,-0.23 L0.5,-0.4 Z" fill="#9c27b0"/>
<circle cx="6.9" cy="-6.9" r="2.6" fill="#f23645"/>
</g>
<!-- USDT box -->
<path d="M1274,49H1345A2,2 0 0 1 1347,51V64A2,2 0 0 1 1345,66H1274Z" fill="#0000ff"/><text x="1282.4" y="60.3" font-size="12" fill="#fff" font-weight="bold" text-anchor="start" textLength="58" lengthAdjust="spacingAndGlyphs">126,199.00</text>
<rect x="1274" y="28" width="76.5" height="33" fill="#fff"/>
<rect x="1277" y="31.5" width="70" height="25.5" rx="4" fill="#fff" stroke="#eceef2" stroke-width="1"/>
<text x="1286.3" y="48.6" font-size="12" fill="#131722" font-weight="normal" text-anchor="start" textLength="27.5" lengthAdjust="spacingAndGlyphs">USDT</text>
<text x="10.3" y="19.2" font-size="13" fill="#131722" font-weight="normal" text-anchor="start" textLength="362" lengthAdjust="spacingAndGlyphs">ranadagger created with TradingView.com, Feb 23, 2026 16:21 UTC</text><text x="18" y="45.8" font-size="12" fill="#131722" font-weight="normal" text-anchor="start" textLength="178" lengthAdjust="spacingAndGlyphs">Bitcoin / TetherUS · 1D · Binance</text><text x="204" y="45.8" font-size="12" fill="#131722" font-weight="normal" text-anchor="start" textLength="8" lengthAdjust="spacingAndGlyphs">O</text><text x="212" y="45.8" font-size="12" fill="#ef5350" font-weight="normal" text-anchor="start" textLength="52" lengthAdjust="spacingAndGlyphs">67,643.39</text><text x="271.5" y="45.8" font-size="12" fill="#131722" font-weight="normal" text-anchor="start" textLength="7.5" lengthAdjust="spacingAndGlyphs">H</text><text x="279" y="45.8" font-size="12" fill="#ef5350" font-weight="normal" text-anchor="start" textLength="52.5" lengthAdjust="spacingAndGlyphs">67,684.86</text><text x="340" y="45.8" font-size="12" fill="#131722" font-weight="normal" text-anchor="start" textLength="5.5" lengthAdjust="spacingAndGlyphs">L</text><text x="345.5" y="45.8" font-size="12" fill="#ef5350" font-weight="normal" text-anchor="start" textLength="52.5" lengthAdjust="spacingAndGlyphs">64,290.71</text><text x="406" y="45.8" font-size="12" fill="#131722" font-weight="normal" text-anchor="start" textLength="7" lengthAdjust="spacingAndGlyphs">C</text><text x="413" y="45.8" font-size="12" fill="#ef5350" font-weight="normal" text-anchor="start" textLength="52" lengthAdjust="spacingAndGlyphs">65,522.01</text><text x="473.5" y="45.8" font-size="12" fill="#ef5350" font-weight="normal" text-anchor="start" textLength="101.5" lengthAdjust="spacingAndGlyphs">−2,121.39 (−3.14%)</text><text x="18" y="62.9" font-size="12" fill="#131722" font-weight="normal" text-anchor="start" textLength="82" lengthAdjust="spacingAndGlyphs">EMA (20, close)</text><text x="107.5" y="62.9" font-size="12" fill="#2962ff" font-weight="normal" text-anchor="start" textLength="53.5" lengthAdjust="spacingAndGlyphs">70,185.67</text><text x="18" y="79.8" font-size="12" fill="#131722" font-weight="normal" text-anchor="start" textLength="81" lengthAdjust="spacingAndGlyphs">SMA (50, close)</text><text x="107.5" y="79.8" font-size="12" fill="#f23645" font-weight="normal" text-anchor="start" textLength="52.5" lengthAdjust="spacingAndGlyphs">80,852.12</text><text x="18.3" y="640.2" font-size="12" fill="#131722" font-weight="normal" text-anchor="start" textLength="75.6" lengthAdjust="spacingAndGlyphs">RSI (14, close)</text><text x="102.2" y="640.2" font-size="12" fill="#7e57c2" font-weight="normal" text-anchor="start" textLength="28.9" lengthAdjust="spacingAndGlyphs">32.92</text><text x="138.9" y="640.2" font-size="12" fill="#fdd835" font-weight="normal" text-anchor="start" textLength="28.9" lengthAdjust="spacingAndGlyphs">34.45</text><text x="1282.4" y="592.2" font-size="12" fill="#131722" font-weight="normal" text-anchor="start" textLength="52.3" lengthAdjust="spacingAndGlyphs">60,000.00</text><text x="1282.4" y="560.0" font-size="12" fill="#131722" font-weight="normal" text-anchor="start" textLength="52.3" lengthAdjust="spacingAndGlyphs">64,000.00</text><text x="1282.4" y="527.8" font-size="12" fill="#131722" font-weight="normal" text-anchor="start" textLength="52.3" lengthAdjust="spacingAndGlyphs">68,000.00</text><text x="1282.4" y="495.7" font-size="12" fill="#131722" font-weight="normal" text-anchor="start" textLength="52.3" lengthAdjust="spacingAndGlyphs">72,000.00</text><text x="1282.4" y="463.5" font-size="12" fill="#131722" font-weight="normal" text-anchor="start" textLength="52.3" lengthAdjust="spacingAndGlyphs">76,000.00</text><text x="1282.4" y="431.3" font-size="12" fill="#131722" font-weight="normal" text-anchor="start" textLength="52.3" lengthAdjust="spacingAndGlyphs">80,000.00</text><text x="1282.4" y="399.1" font-size="12" fill="#131722" font-weight="normal" text-anchor="start" textLength="52.3" lengthAdjust="spacingAndGlyphs">84,000.00</text><text x="1282.4" y="367.0" font-size="12" fill="#131722" font-weight="normal" text-anchor="start" textLength="52.3" lengthAdjust="spacingAndGlyphs">88,000.00</text><text x="1282.4" y="334.8" font-size="12" fill="#131722" font-weight="normal" text-anchor="start" textLength="52.3" lengthAdjust="spacingAndGlyphs">92,000.00</text><text x="1282.4" y="302.6" font-size="12" fill="#131722" font-weight="normal" text-anchor="start" textLength="52.3" lengthAdjust="spacingAndGlyphs">96,000.00</text><text x="1282.4" y="270.5" font-size="12" fill="#131722" font-weight="normal" text-anchor="start" textLength="58.7" lengthAdjust="spacingAndGlyphs">100,000.00</text><text x="1282.4" y="238.3" font-size="12" fill="#131722" font-weight="normal" text-anchor="start" textLength="58.7" lengthAdjust="spacingAndGlyphs">104,000.00</text><text x="1282.4" y="206.1" font-size="12" fill="#131722" font-weight="normal" text-anchor="start" textLength="58.7" lengthAdjust="spacingAndGlyphs">108,000.00</text><text x="1282.4" y="174.0" font-size="12" fill="#131722" font-weight="normal" text-anchor="start" textLength="58.7" lengthAdjust="spacingAndGlyphs">112,000.00</text><text x="1282.4" y="141.8" font-size="12" fill="#131722" font-weight="normal" text-anchor="start" textLength="58.7" lengthAdjust="spacingAndGlyphs">116,000.00</text><text x="1282.4" y="109.6" font-size="12" fill="#131722" font-weight="normal" text-anchor="start" textLength="58.7" lengthAdjust="spacingAndGlyphs">120,000.00</text><text x="1282.4" y="77.5" font-size="12" fill="#131722" font-weight="normal" text-anchor="start" textLength="58.7" lengthAdjust="spacingAndGlyphs">124,000.00</text><text x="1282.3" y="629.0" font-size="12" fill="#131722" font-weight="normal" text-anchor="start" textLength="29" lengthAdjust="spacingAndGlyphs">80.00</text><text x="1282.3" y="687.0" font-size="12" fill="#131722" font-weight="normal" text-anchor="start" textLength="29" lengthAdjust="spacingAndGlyphs">60.00</text><text x="1282.3" y="801.5" font-size="12" fill="#131722" font-weight="normal" text-anchor="start" textLength="29" lengthAdjust="spacingAndGlyphs">20.00</text><text x="48.5" y="838" font-size="12" fill="#131722" font-weight="normal" text-anchor="middle">Apr</text><text x="153.5" y="838" font-size="12" fill="#131722" font-weight="normal" text-anchor="middle">May</text><text x="263.5" y="838" font-size="12" fill="#131722" font-weight="normal" text-anchor="middle">Jun</text><text x="368.5" y="838" font-size="12" fill="#131722" font-weight="normal" text-anchor="middle">Jul</text><text x="477.5" y="838" font-size="12" fill="#131722" font-weight="normal" text-anchor="middle">Aug</text><text x="586.5" y="838" font-size="12" fill="#131722" font-weight="normal" text-anchor="middle">Sep</text><text x="692.5" y="838" font-size="12" fill="#131722" font-weight="normal" text-anchor="middle">Oct</text><text x="801.5" y="838" font-size="12" fill="#131722" font-weight="normal" text-anchor="middle">Nov</text><text x="907.5" y="838" font-size="12" fill="#131722" font-weight="normal" text-anchor="middle">Dec</text><text x="1016.5" y="838" font-size="12" fill="#131722" font-weight="bold" text-anchor="middle">2026</text><text x="1125.5" y="838" font-size="12" fill="#131722" font-weight="normal" text-anchor="middle">Feb</text><text x="1224.5" y="838" font-size="12" fill="#131722" font-weight="normal" text-anchor="middle">Mar</text>
<path d="M1274,275.8H1338.2A2,2 0 0 1 1340.2,277.8V290.8A2,2 0 0 1 1338.2,292.8H1274Z" fill="#0000ff"/><text x="1282.4" y="287.8" font-size="12" fill="#fff" font-weight="bold" text-anchor="start" textLength="52.3" lengthAdjust="spacingAndGlyphs">97,924.00</text><path d="M1274,301.0H1338.2A2,2 0 0 1 1340.2,303.0V316.0A2,2 0 0 1 1338.2,318.0H1274Z" fill="#0000ff"/><text x="1282.4" y="313.0" font-size="12" fill="#fff" font-weight="bold" text-anchor="start" textLength="52.3" lengthAdjust="spacingAndGlyphs">94,789.00</text><path d="M1274,388.0H1338.2A2,2 0 0 1 1340.2,390.0V403.0A2,2 0 0 1 1338.2,405.0H1274Z" fill="#0000ff"/><text x="1282.4" y="400.0" font-size="12" fill="#fff" font-weight="bold" text-anchor="start" textLength="52.3" lengthAdjust="spacingAndGlyphs">84,000.00</text><path d="M1274,465.0H1338.2A2,2 0 0 1 1340.2,467.0V480.0A2,2 0 0 1 1338.2,482.0H1274Z" fill="#0000ff"/><text x="1282.4" y="477.0" font-size="12" fill="#fff" font-weight="bold" text-anchor="start" textLength="52.3" lengthAdjust="spacingAndGlyphs">74,508.00</text><path d="M1225,414H1273.2V430.8H1225A2,2 0 0 1 1223,428.8V416A2,2 0 0 1 1225,414Z" fill="#f23645"/><text x="1227.8" y="426.2" font-size="12" fill="#fff" font-weight="bold" text-anchor="start" textLength="41" lengthAdjust="spacingAndGlyphs">SMA:MA</text><path d="M1274,414H1338A2,2 0 0 1 1340,416V428.8A2,2 0 0 1 1338,430.8H1274Z" fill="#f23645"/><text x="1282.2" y="426.2" font-size="12" fill="#fff" font-weight="bold" text-anchor="start" textLength="52.3" lengthAdjust="spacingAndGlyphs">80,852.12</text><path d="M1244.1,499.1H1273.2V515.8H1244.1A2,2 0 0 1 1242.1,513.8V501.1A2,2 0 0 1 1244.1,499.1Z" fill="#2962ff"/><text x="1247" y="511.2" font-size="12" fill="#fff" font-weight="bold" text-anchor="start" textLength="21.8" lengthAdjust="spacingAndGlyphs">EMA</text><path d="M1274,499.1H1338A2,2 0 0 1 1340,501.1V513.8A2,2 0 0 1 1338,515.8H1274Z" fill="#2962ff"/><text x="1282.2" y="511.2" font-size="12" fill="#fff" font-weight="bold" text-anchor="start" textLength="52.3" lengthAdjust="spacingAndGlyphs">70,185.67</text><path d="M1218,537.2H1273.2V553.8H1218A2,2 0 0 1 1216,551.8V539.2A2,2 0 0 1 1218,537.2Z" fill="#ef5350"/><text x="1220.6" y="549.5" font-size="12" fill="#fff" font-weight="bold" text-anchor="start" textLength="47.2" lengthAdjust="spacingAndGlyphs">BTCUSDT</text><path d="M1274,537.2H1338A2,2 0 0 1 1340,539.2V579.8A2,2 0 0 1 1338,581.8H1274Z" fill="#ef5350"/><text x="1282.4" y="548.8" font-size="12" fill="#fff" font-weight="bold" text-anchor="start" textLength="51.5" lengthAdjust="spacingAndGlyphs">65,522.01</text><text x="1282.4" y="562.6" font-size="12" fill="#fff" font-weight="normal" text-anchor="start" textLength="42.4" lengthAdjust="spacingAndGlyphs">−22.20%</text><text x="1282.4" y="576.7" font-size="12" fill="#fcdcdc" font-weight="normal" text-anchor="start" textLength="46" lengthAdjust="spacingAndGlyphs">07:38:34</text><path d="M1196.3,735.3H1273.4V752H1196.3A2,2 0 0 1 1194.3,750V737.3A2,2 0 0 1 1196.3,735.3Z" fill="#fdd835"/><text x="1198.4" y="747.6" font-size="12" fill="#131722" font-weight="normal" text-anchor="start" textLength="70.4" lengthAdjust="spacingAndGlyphs">RSI-based MA</text><path d="M1273.8,735.3H1315A2,2 0 0 1 1317,737.3V750A2,2 0 0 1 1315,752H1273.8Z" fill="#fdd835"/><text x="1282" y="747.5" font-size="12" fill="#131722" font-weight="normal" text-anchor="start" textLength="29.3" lengthAdjust="spacingAndGlyphs">34.45</text><path d="M1250.2,752H1273.4V768.7H1250.2A2,2 0 0 1 1248.2,766.7V754A2,2 0 0 1 1250.2,752Z" fill="#7e57c2"/><text x="1253.2" y="764.8" font-size="12" fill="#fff" font-weight="bold" text-anchor="start" textLength="15.9" lengthAdjust="spacingAndGlyphs">RSI</text><path d="M1273.8,752H1315A2,2 0 0 1 1317,754V766.7A2,2 0 0 1 1315,768.7H1273.8Z" fill="#7e57c2"/><text x="1282" y="764.8" font-size="12" fill="#fff" font-weight="bold" text-anchor="start" textLength="29.3" lengthAdjust="spacingAndGlyphs">32.92</text>
<!-- logo -->
<g transform="translate(12,867) scale(0.84)" fill="#131722">
<path d="M14 22H7V11H0V4h14v18ZM28 22h-8l7.5-18h8L28 22Z"/><circle cx="20" cy="8" r="4"/>
</g>
<text x="49.2" y="885" font-size="20.5" fill="#131722" font-weight="bold" text-anchor="start" textLength="120.5" lengthAdjust="spacingAndGlyphs">TradingView</text>
</svg>
</body></html>
